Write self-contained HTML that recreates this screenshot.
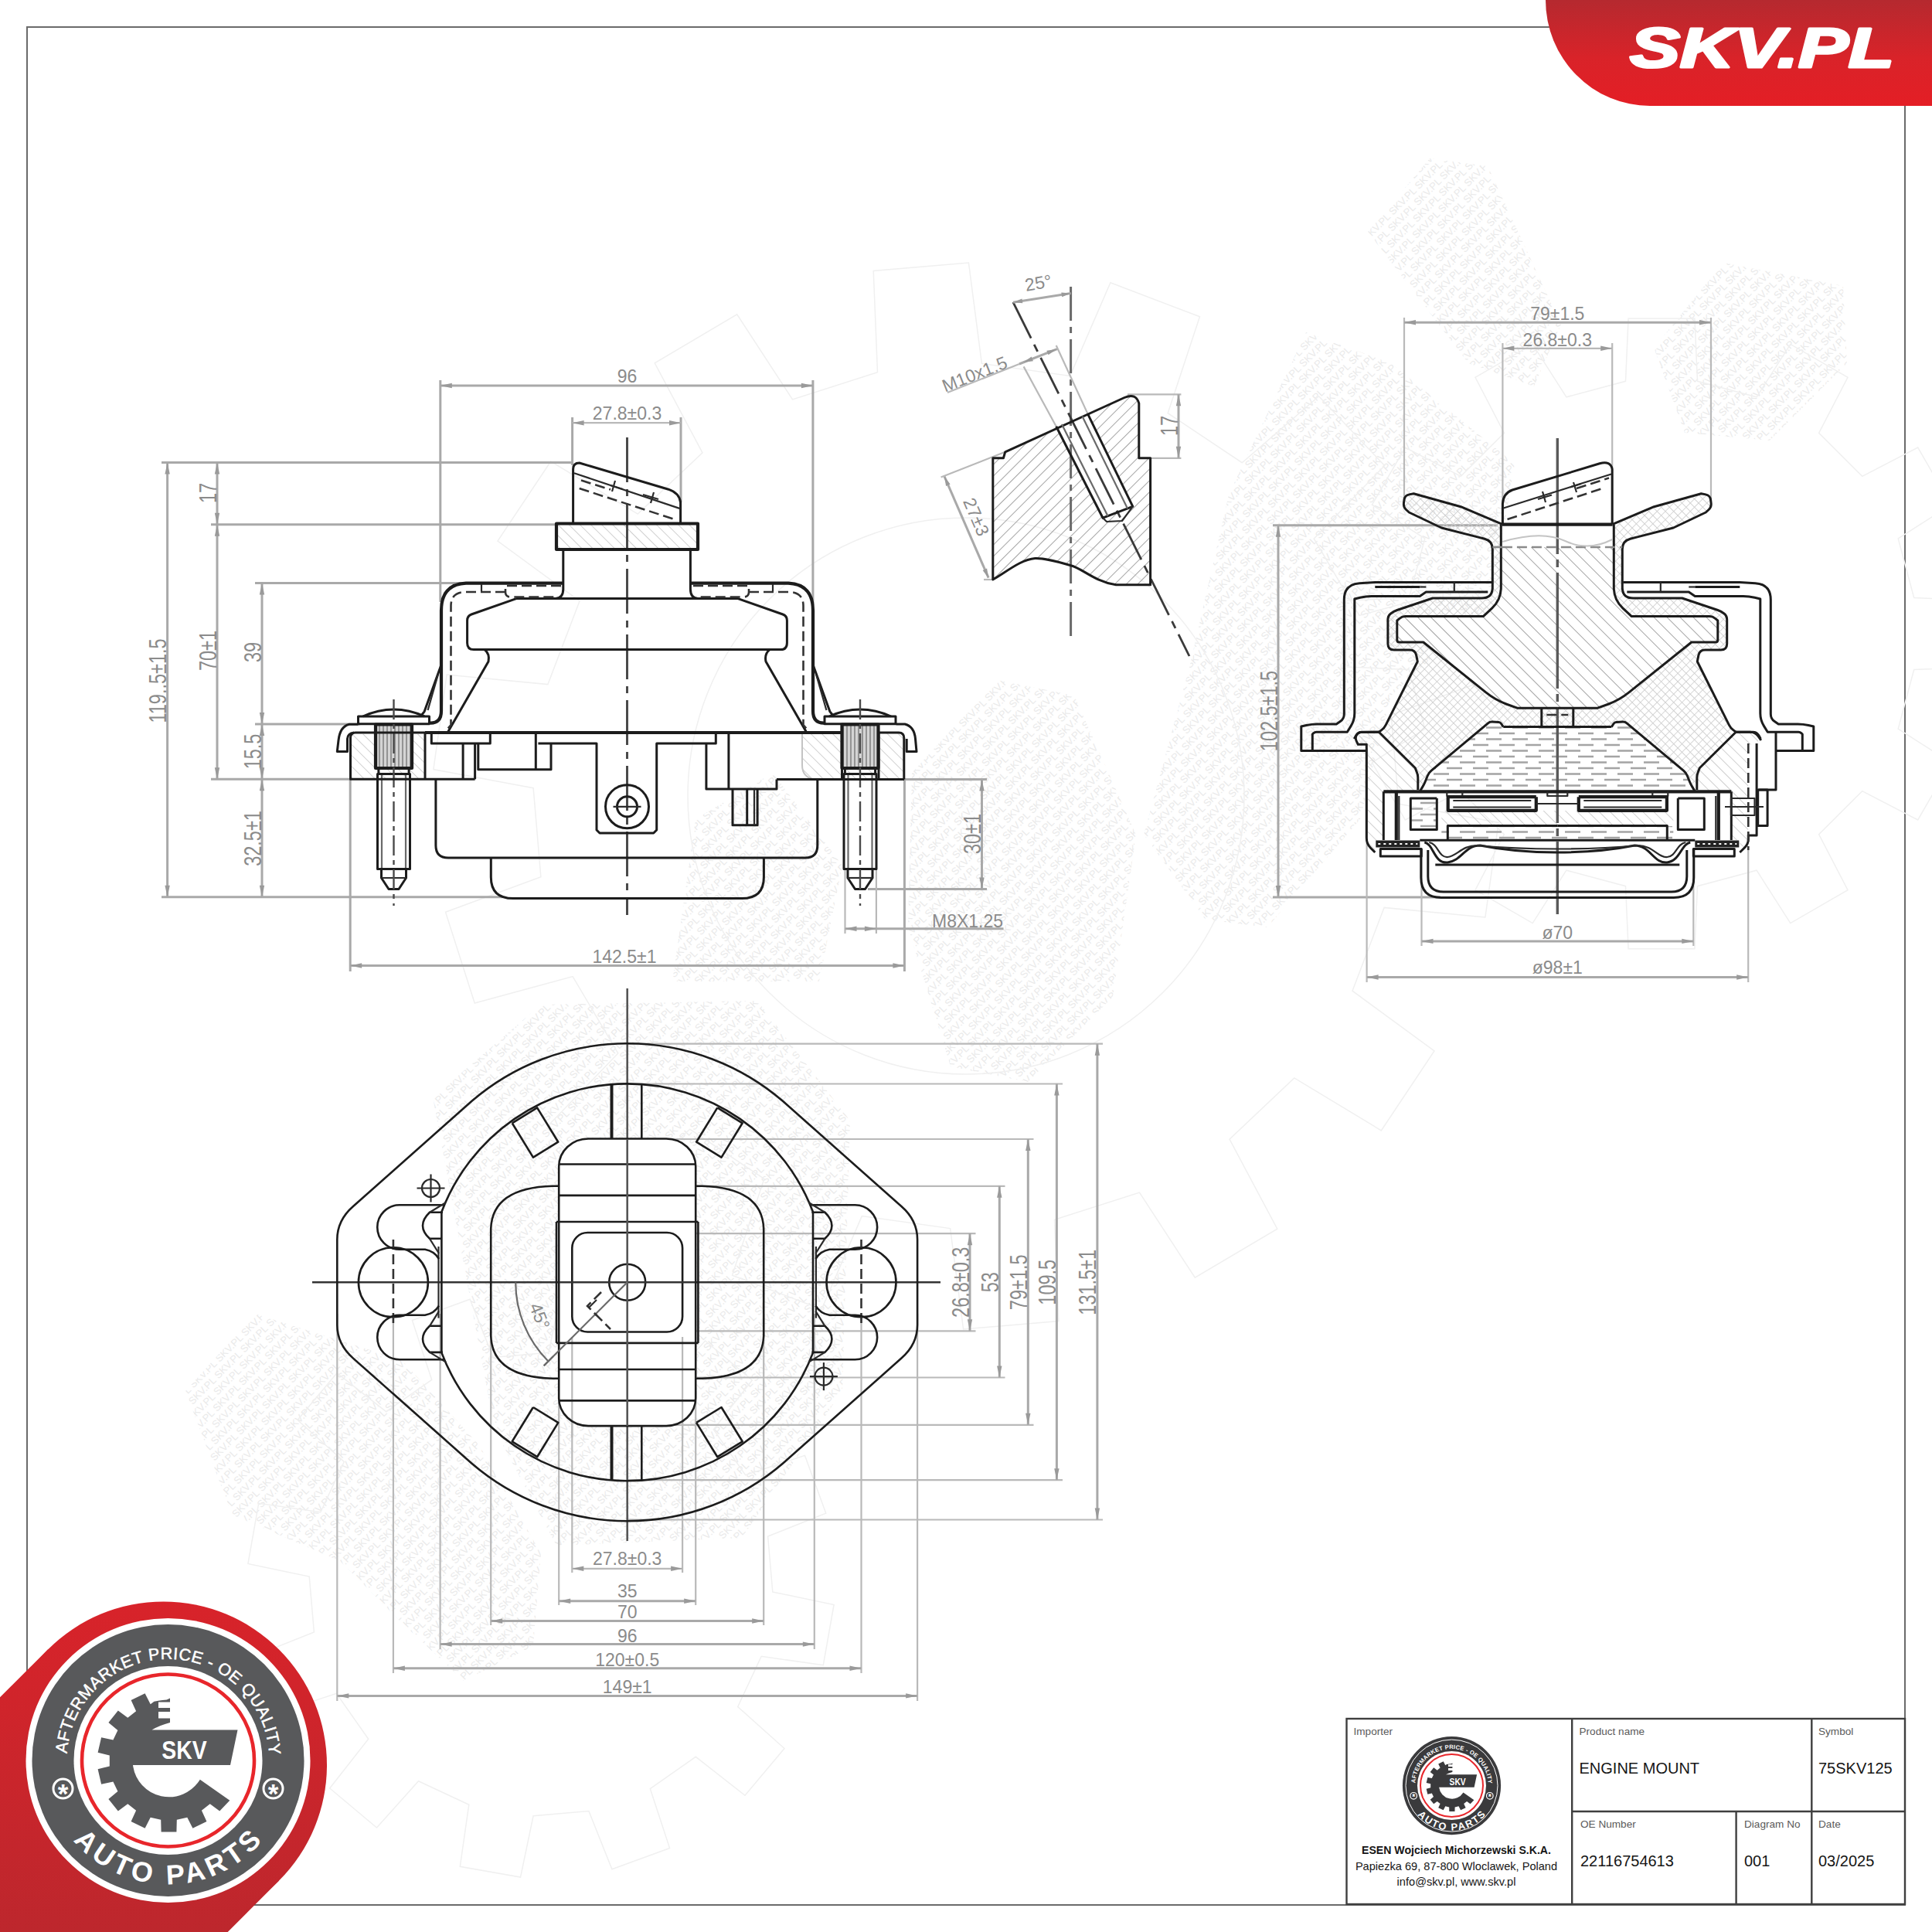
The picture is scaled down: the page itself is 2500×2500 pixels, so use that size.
<!DOCTYPE html>
<html lang="en"><head><meta charset="utf-8"><title>SKV 75SKV125 Engine Mount</title>
<style>
html,body{margin:0;padding:0;background:#fff;}
body{width:2500px;height:2500px;overflow:hidden;font-family:"Liberation Sans",sans-serif;}
svg{display:block;position:absolute;left:0;top:0;}
.o{fill:none;stroke:#1c1c1c;stroke-width:3;stroke-linejoin:round;stroke-linecap:butt;}
.tv .o{stroke-width:2.6;}
.tv .o4{stroke-width:4;}
.o4{fill:none;stroke:#1c1c1c;stroke-width:4.2;stroke-linejoin:round;}
.o2{fill:none;stroke:#2a2a2a;stroke-width:2.2;stroke-linejoin:round;}
.g2{fill:none;stroke:#6a6a6a;stroke-width:2.2;}
.hd{fill:none;stroke:#333;stroke-width:2.6;stroke-dasharray:13 6;}
.cl{fill:none;stroke:#4a4a4a;stroke-width:3;stroke-dasharray:58 9 9 9;}
.cl2{fill:none;stroke:#4a4a4a;stroke-width:2.4;stroke-dasharray:26 6 6 6;}
.d{fill:none;stroke:#a9a9a9;stroke-width:3;}
.d2{fill:none;stroke:#b9b9b9;stroke-width:2.2;}
.ah{fill:#9a9a9a;stroke:none;}
.h{fill:none;stroke:#a8a8a8;stroke-width:2;}
.hl{fill:none;stroke:#c4c4c4;stroke-width:2;}
.t{font-family:"Liberation Sans",sans-serif;font-size:23px;fill:#8b8b8b;}
.tr{font-family:"Liberation Sans",sans-serif;font-size:23.5px;fill:#8b8b8b;}
.wm{font-family:"Liberation Sans",sans-serif;font-size:13px;fill:#eaeaea;}
.wg{fill:none;stroke:#f0f0f0;stroke-width:1.5;}
.tb{fill:none;stroke:#3f3f3f;stroke-width:2.4;}
.tl{font-family:"Liberation Sans",sans-serif;font-size:13.6px;fill:#5a5a5a;}
.tv{font-family:"Liberation Sans",sans-serif;font-size:20px;fill:#161616;}
.ta{font-family:"Liberation Sans",sans-serif;font-size:14.6px;fill:#161616;}
</style></head><body>
<svg width="2500" height="2500" viewBox="0 0 2500 2500">
<defs><linearGradient id="gt" x1="0" y1="0" x2="0" y2="1"><stop offset="0" stop-color="#b5292f"/><stop offset="0.55" stop-color="#d92329"/><stop offset="1" stop-color="#e41e25"/></linearGradient><linearGradient id="gb" gradientUnits="userSpaceOnUse" x1="0" y1="2070" x2="0" y2="2500"><stop offset="0" stop-color="#d8232a"/><stop offset="1" stop-color="#bd272d"/></linearGradient><pattern id="hA" width="10.5" height="10.5" patternUnits="userSpaceOnUse" patternTransform="rotate(45)"><line x1="0" y1="0" x2="0" y2="15" stroke="#a2a2a2" stroke-width="2"/></pattern><pattern id="hB" width="12" height="12" patternUnits="userSpaceOnUse" patternTransform="rotate(-45)"><line x1="0" y1="0" x2="0" y2="15" stroke="#a2a2a2" stroke-width="2"/></pattern><pattern id="hL" width="10" height="10" patternUnits="userSpaceOnUse" patternTransform="rotate(-45)"><line x1="0" y1="0" x2="0" y2="14" stroke="#cfcfcf" stroke-width="2"/></pattern><pattern id="hX" width="7.6" height="7.6" patternUnits="userSpaceOnUse" patternTransform="rotate(45)"><path d="M0,0V7.6M0,0H7.6" stroke="#d0d0d0" stroke-width="1.7" fill="none"/></pattern><pattern id="hF" width="34" height="15" patternUnits="userSpaceOnUse"><path d="M2,4H22M19,11.5H34M0,11.5H5" stroke="#a4a4a4" stroke-width="2.6" fill="none"/></pattern><pattern id="hK" width="5" height="8" patternUnits="userSpaceOnUse"><line x1="1" y1="0" x2="1" y2="8" stroke="#8c8c8c" stroke-width="1.8"/></pattern></defs>
<rect class="fr" x="35" y="35" width="2430" height="2430" fill="none" stroke="#6b6b6b" stroke-width="2"/>
<clipPath id="wc1"><polygon points="1770,300 1850,205 1925,215 2020,420 1985,500 1900,470"/></clipPath>
<g clip-path="url(#wc1)"><g transform="rotate(-45 1895 352.5)">
<text class="wm" x="1691.7" y="149.2">SKV.PL SKV.PL SKV.PL SKV.PL SKV.PL SKV.PL SKV.PL SKV.PL SKV.PL SKV.PL</text>
<text class="wm" x="1675.7" y="163.5">SKV.PL SKV.PL SKV.PL SKV.PL SKV.PL SKV.PL SKV.PL SKV.PL SKV.PL SKV.PL</text>
<text class="wm" x="1659.7" y="177.8">SKV.PL SKV.PL SKV.PL SKV.PL SKV.PL SKV.PL SKV.PL SKV.PL SKV.PL SKV.PL</text>
<text class="wm" x="1691.7" y="192.1">SKV.PL SKV.PL SKV.PL SKV.PL SKV.PL SKV.PL SKV.PL SKV.PL SKV.PL SKV.PL</text>
<text class="wm" x="1675.7" y="206.4">SKV.PL SKV.PL SKV.PL SKV.PL SKV.PL SKV.PL SKV.PL SKV.PL SKV.PL SKV.PL</text>
<text class="wm" x="1659.7" y="220.7">SKV.PL SKV.PL SKV.PL SKV.PL SKV.PL SKV.PL SKV.PL SKV.PL SKV.PL SKV.PL</text>
<text class="wm" x="1691.7" y="235">SKV.PL SKV.PL SKV.PL SKV.PL SKV.PL SKV.PL SKV.PL SKV.PL SKV.PL SKV.PL</text>
<text class="wm" x="1675.7" y="249.3">SKV.PL SKV.PL SKV.PL SKV.PL SKV.PL SKV.PL SKV.PL SKV.PL SKV.PL SKV.PL</text>
<text class="wm" x="1659.7" y="263.6">SKV.PL SKV.PL SKV.PL SKV.PL SKV.PL SKV.PL SKV.PL SKV.PL SKV.PL SKV.PL</text>
<text class="wm" x="1691.7" y="277.9">SKV.PL SKV.PL SKV.PL SKV.PL SKV.PL SKV.PL SKV.PL SKV.PL SKV.PL SKV.PL</text>
<text class="wm" x="1675.7" y="292.2">SKV.PL SKV.PL SKV.PL SKV.PL SKV.PL SKV.PL SKV.PL SKV.PL SKV.PL SKV.PL</text>
<text class="wm" x="1659.7" y="306.5">SKV.PL SKV.PL SKV.PL SKV.PL SKV.PL SKV.PL SKV.PL SKV.PL SKV.PL SKV.PL</text>
<text class="wm" x="1691.7" y="320.8">SKV.PL SKV.PL SKV.PL SKV.PL SKV.PL SKV.PL SKV.PL SKV.PL SKV.PL SKV.PL</text>
<text class="wm" x="1675.7" y="335.1">SKV.PL SKV.PL SKV.PL SKV.PL SKV.PL SKV.PL SKV.PL SKV.PL SKV.PL SKV.PL</text>
<text class="wm" x="1659.7" y="349.4">SKV.PL SKV.PL SKV.PL SKV.PL SKV.PL SKV.PL SKV.PL SKV.PL SKV.PL SKV.PL</text>
<text class="wm" x="1691.7" y="363.7">SKV.PL SKV.PL SKV.PL SKV.PL SKV.PL SKV.PL SKV.PL SKV.PL SKV.PL SKV.PL</text>
<text class="wm" x="1675.7" y="378">SKV.PL SKV.PL SKV.PL SKV.PL SKV.PL SKV.PL SKV.PL SKV.PL SKV.PL SKV.PL</text>
<text class="wm" x="1659.7" y="392.3">SKV.PL SKV.PL SKV.PL SKV.PL SKV.PL SKV.PL SKV.PL SKV.PL SKV.PL SKV.PL</text>
<text class="wm" x="1691.7" y="406.6">SKV.PL SKV.PL SKV.PL SKV.PL SKV.PL SKV.PL SKV.PL SKV.PL SKV.PL SKV.PL</text>
<text class="wm" x="1675.7" y="420.9">SKV.PL SKV.PL SKV.PL SKV.PL SKV.PL SKV.PL SKV.PL SKV.PL SKV.PL SKV.PL</text>
<text class="wm" x="1659.7" y="435.2">SKV.PL SKV.PL SKV.PL SKV.PL SKV.PL SKV.PL SKV.PL SKV.PL SKV.PL SKV.PL</text>
<text class="wm" x="1691.7" y="449.5">SKV.PL SKV.PL SKV.PL SKV.PL SKV.PL SKV.PL SKV.PL SKV.PL SKV.PL SKV.PL</text>
<text class="wm" x="1675.7" y="463.8">SKV.PL SKV.PL SKV.PL SKV.PL SKV.PL SKV.PL SKV.PL SKV.PL SKV.PL SKV.PL</text>
<text class="wm" x="1659.7" y="478.1">SKV.PL SKV.PL SKV.PL SKV.PL SKV.PL SKV.PL SKV.PL SKV.PL SKV.PL SKV.PL</text>
<text class="wm" x="1691.7" y="492.4">SKV.PL SKV.PL SKV.PL SKV.PL SKV.PL SKV.PL SKV.PL SKV.PL SKV.PL SKV.PL</text>
<text class="wm" x="1675.7" y="506.7">SKV.PL SKV.PL SKV.PL SKV.PL SKV.PL SKV.PL SKV.PL SKV.PL SKV.PL SKV.PL</text>
<text class="wm" x="1659.7" y="521">SKV.PL SKV.PL SKV.PL SKV.PL SKV.PL SKV.PL SKV.PL SKV.PL SKV.PL SKV.PL</text>
<text class="wm" x="1691.7" y="535.3">SKV.PL SKV.PL SKV.PL SKV.PL SKV.PL SKV.PL SKV.PL SKV.PL SKV.PL SKV.PL</text>
<text class="wm" x="1675.7" y="549.6">SKV.PL SKV.PL SKV.PL SKV.PL SKV.PL SKV.PL SKV.PL SKV.PL SKV.PL SKV.PL</text>
</g></g>
<clipPath id="wc2"><polygon points="2140,450 2230,340 2385,370 2390,470 2290,570 2180,560"/></clipPath>
<g clip-path="url(#wc2)"><g transform="rotate(-45 2265 455)">
<text class="wm" x="2085.1" y="275.1">SKV.PL SKV.PL SKV.PL SKV.PL SKV.PL SKV.PL SKV.PL SKV.PL SKV.PL</text>
<text class="wm" x="2069.1" y="289.4">SKV.PL SKV.PL SKV.PL SKV.PL SKV.PL SKV.PL SKV.PL SKV.PL SKV.PL</text>
<text class="wm" x="2053.1" y="303.7">SKV.PL SKV.PL SKV.PL SKV.PL SKV.PL SKV.PL SKV.PL SKV.PL SKV.PL</text>
<text class="wm" x="2085.1" y="318">SKV.PL SKV.PL SKV.PL SKV.PL SKV.PL SKV.PL SKV.PL SKV.PL SKV.PL</text>
<text class="wm" x="2069.1" y="332.3">SKV.PL SKV.PL SKV.PL SKV.PL SKV.PL SKV.PL SKV.PL SKV.PL SKV.PL</text>
<text class="wm" x="2053.1" y="346.6">SKV.PL SKV.PL SKV.PL SKV.PL SKV.PL SKV.PL SKV.PL SKV.PL SKV.PL</text>
<text class="wm" x="2085.1" y="360.9">SKV.PL SKV.PL SKV.PL SKV.PL SKV.PL SKV.PL SKV.PL SKV.PL SKV.PL</text>
<text class="wm" x="2069.1" y="375.2">SKV.PL SKV.PL SKV.PL SKV.PL SKV.PL SKV.PL SKV.PL SKV.PL SKV.PL</text>
<text class="wm" x="2053.1" y="389.5">SKV.PL SKV.PL SKV.PL SKV.PL SKV.PL SKV.PL SKV.PL SKV.PL SKV.PL</text>
<text class="wm" x="2085.1" y="403.8">SKV.PL SKV.PL SKV.PL SKV.PL SKV.PL SKV.PL SKV.PL SKV.PL SKV.PL</text>
<text class="wm" x="2069.1" y="418.1">SKV.PL SKV.PL SKV.PL SKV.PL SKV.PL SKV.PL SKV.PL SKV.PL SKV.PL</text>
<text class="wm" x="2053.1" y="432.4">SKV.PL SKV.PL SKV.PL SKV.PL SKV.PL SKV.PL SKV.PL SKV.PL SKV.PL</text>
<text class="wm" x="2085.1" y="446.7">SKV.PL SKV.PL SKV.PL SKV.PL SKV.PL SKV.PL SKV.PL SKV.PL SKV.PL</text>
<text class="wm" x="2069.1" y="461">SKV.PL SKV.PL SKV.PL SKV.PL SKV.PL SKV.PL SKV.PL SKV.PL SKV.PL</text>
<text class="wm" x="2053.1" y="475.3">SKV.PL SKV.PL SKV.PL SKV.PL SKV.PL SKV.PL SKV.PL SKV.PL SKV.PL</text>
<text class="wm" x="2085.1" y="489.6">SKV.PL SKV.PL SKV.PL SKV.PL SKV.PL SKV.PL SKV.PL SKV.PL SKV.PL</text>
<text class="wm" x="2069.1" y="503.9">SKV.PL SKV.PL SKV.PL SKV.PL SKV.PL SKV.PL SKV.PL SKV.PL SKV.PL</text>
<text class="wm" x="2053.1" y="518.2">SKV.PL SKV.PL SKV.PL SKV.PL SKV.PL SKV.PL SKV.PL SKV.PL SKV.PL</text>
<text class="wm" x="2085.1" y="532.5">SKV.PL SKV.PL SKV.PL SKV.PL SKV.PL SKV.PL SKV.PL SKV.PL SKV.PL</text>
<text class="wm" x="2069.1" y="546.8">SKV.PL SKV.PL SKV.PL SKV.PL SKV.PL SKV.PL SKV.PL SKV.PL SKV.PL</text>
<text class="wm" x="2053.1" y="561.1">SKV.PL SKV.PL SKV.PL SKV.PL SKV.PL SKV.PL SKV.PL SKV.PL SKV.PL</text>
<text class="wm" x="2085.1" y="575.4">SKV.PL SKV.PL SKV.PL SKV.PL SKV.PL SKV.PL SKV.PL SKV.PL SKV.PL</text>
<text class="wm" x="2069.1" y="589.7">SKV.PL SKV.PL SKV.PL SKV.PL SKV.PL SKV.PL SKV.PL SKV.PL SKV.PL</text>
<text class="wm" x="2053.1" y="604">SKV.PL SKV.PL SKV.PL SKV.PL SKV.PL SKV.PL SKV.PL SKV.PL SKV.PL</text>
<text class="wm" x="2085.1" y="618.3">SKV.PL SKV.PL SKV.PL SKV.PL SKV.PL SKV.PL SKV.PL SKV.PL SKV.PL</text>
<text class="wm" x="2069.1" y="632.6">SKV.PL SKV.PL SKV.PL SKV.PL SKV.PL SKV.PL SKV.PL SKV.PL SKV.PL</text>
</g></g>
<clipPath id="wc3"><polygon points="1690,430 1800,470 1960,600 1930,780 1800,900 1760,1060 1640,1200 1560,1190 1480,1080 1540,860 1590,640"/></clipPath>
<g clip-path="url(#wc3)"><g transform="rotate(-45 1720 815)">
<text class="wm" x="1256.3" y="351.3">SKV.PL SKV.PL SKV.PL SKV.PL SKV.PL SKV.PL SKV.PL SKV.PL SKV.PL SKV.PL SKV.PL SKV.PL SKV.PL SKV.PL SKV.PL SKV.PL SKV.PL SKV.PL SKV.PL SKV.PL SKV.PL</text>
<text class="wm" x="1240.3" y="365.6">SKV.PL SKV.PL SKV.PL SKV.PL SKV.PL SKV.PL SKV.PL SKV.PL SKV.PL SKV.PL SKV.PL SKV.PL SKV.PL SKV.PL SKV.PL SKV.PL SKV.PL SKV.PL SKV.PL SKV.PL SKV.PL</text>
<text class="wm" x="1224.3" y="379.9">SKV.PL SKV.PL SKV.PL SKV.PL SKV.PL SKV.PL SKV.PL SKV.PL SKV.PL SKV.PL SKV.PL SKV.PL SKV.PL SKV.PL SKV.PL SKV.PL SKV.PL SKV.PL SKV.PL SKV.PL SKV.PL</text>
<text class="wm" x="1256.3" y="394.2">SKV.PL SKV.PL SKV.PL SKV.PL SKV.PL SKV.PL SKV.PL SKV.PL SKV.PL SKV.PL SKV.PL SKV.PL SKV.PL SKV.PL SKV.PL SKV.PL SKV.PL SKV.PL SKV.PL SKV.PL SKV.PL</text>
<text class="wm" x="1240.3" y="408.5">SKV.PL SKV.PL SKV.PL SKV.PL SKV.PL SKV.PL SKV.PL SKV.PL SKV.PL SKV.PL SKV.PL SKV.PL SKV.PL SKV.PL SKV.PL SKV.PL SKV.PL SKV.PL SKV.PL SKV.PL SKV.PL</text>
<text class="wm" x="1224.3" y="422.8">SKV.PL SKV.PL SKV.PL SKV.PL SKV.PL SKV.PL SKV.PL SKV.PL SKV.PL SKV.PL SKV.PL SKV.PL SKV.PL SKV.PL SKV.PL SKV.PL SKV.PL SKV.PL SKV.PL SKV.PL SKV.PL</text>
<text class="wm" x="1256.3" y="437.1">SKV.PL SKV.PL SKV.PL SKV.PL SKV.PL SKV.PL SKV.PL SKV.PL SKV.PL SKV.PL SKV.PL SKV.PL SKV.PL SKV.PL SKV.PL SKV.PL SKV.PL SKV.PL SKV.PL SKV.PL SKV.PL</text>
<text class="wm" x="1240.3" y="451.4">SKV.PL SKV.PL SKV.PL SKV.PL SKV.PL SKV.PL SKV.PL SKV.PL SKV.PL SKV.PL SKV.PL SKV.PL SKV.PL SKV.PL SKV.PL SKV.PL SKV.PL SKV.PL SKV.PL SKV.PL SKV.PL</text>
<text class="wm" x="1224.3" y="465.7">SKV.PL SKV.PL SKV.PL SKV.PL SKV.PL SKV.PL SKV.PL SKV.PL SKV.PL SKV.PL SKV.PL SKV.PL SKV.PL SKV.PL SKV.PL SKV.PL SKV.PL SKV.PL SKV.PL SKV.PL SKV.PL</text>
<text class="wm" x="1256.3" y="480">SKV.PL SKV.PL SKV.PL SKV.PL SKV.PL SKV.PL SKV.PL SKV.PL SKV.PL SKV.PL SKV.PL SKV.PL SKV.PL SKV.PL SKV.PL SKV.PL SKV.PL SKV.PL SKV.PL SKV.PL SKV.PL</text>
<text class="wm" x="1240.3" y="494.3">SKV.PL SKV.PL SKV.PL SKV.PL SKV.PL SKV.PL SKV.PL SKV.PL SKV.PL SKV.PL SKV.PL SKV.PL SKV.PL SKV.PL SKV.PL SKV.PL SKV.PL SKV.PL SKV.PL SKV.PL SKV.PL</text>
<text class="wm" x="1224.3" y="508.6">SKV.PL SKV.PL SKV.PL SKV.PL SKV.PL SKV.PL SKV.PL SKV.PL SKV.PL SKV.PL SKV.PL SKV.PL SKV.PL SKV.PL SKV.PL SKV.PL SKV.PL SKV.PL SKV.PL SKV.PL SKV.PL</text>
<text class="wm" x="1256.3" y="522.9">SKV.PL SKV.PL SKV.PL SKV.PL SKV.PL SKV.PL SKV.PL SKV.PL SKV.PL SKV.PL SKV.PL SKV.PL SKV.PL SKV.PL SKV.PL SKV.PL SKV.PL SKV.PL SKV.PL SKV.PL SKV.PL</text>
<text class="wm" x="1240.3" y="537.2">SKV.PL SKV.PL SKV.PL SKV.PL SKV.PL SKV.PL SKV.PL SKV.PL SKV.PL SKV.PL SKV.PL SKV.PL SKV.PL SKV.PL SKV.PL SKV.PL SKV.PL SKV.PL SKV.PL SKV.PL SKV.PL</text>
<text class="wm" x="1224.3" y="551.5">SKV.PL SKV.PL SKV.PL SKV.PL SKV.PL SKV.PL SKV.PL SKV.PL SKV.PL SKV.PL SKV.PL SKV.PL SKV.PL SKV.PL SKV.PL SKV.PL SKV.PL SKV.PL SKV.PL SKV.PL SKV.PL</text>
<text class="wm" x="1256.3" y="565.8">SKV.PL SKV.PL SKV.PL SKV.PL SKV.PL SKV.PL SKV.PL SKV.PL SKV.PL SKV.PL SKV.PL SKV.PL SKV.PL SKV.PL SKV.PL SKV.PL SKV.PL SKV.PL SKV.PL SKV.PL SKV.PL</text>
<text class="wm" x="1240.3" y="580.1">SKV.PL SKV.PL SKV.PL SKV.PL SKV.PL SKV.PL SKV.PL SKV.PL SKV.PL SKV.PL SKV.PL SKV.PL SKV.PL SKV.PL SKV.PL SKV.PL SKV.PL SKV.PL SKV.PL SKV.PL SKV.PL</text>
<text class="wm" x="1224.3" y="594.4">SKV.PL SKV.PL SKV.PL SKV.PL SKV.PL SKV.PL SKV.PL SKV.PL SKV.PL SKV.PL SKV.PL SKV.PL SKV.PL SKV.PL SKV.PL SKV.PL SKV.PL SKV.PL SKV.PL SKV.PL SKV.PL</text>
<text class="wm" x="1256.3" y="608.7">SKV.PL SKV.PL SKV.PL SKV.PL SKV.PL SKV.PL SKV.PL SKV.PL SKV.PL SKV.PL SKV.PL SKV.PL SKV.PL SKV.PL SKV.PL SKV.PL SKV.PL SKV.PL SKV.PL SKV.PL SKV.PL</text>
<text class="wm" x="1240.3" y="623">SKV.PL SKV.PL SKV.PL SKV.PL SKV.PL SKV.PL SKV.PL SKV.PL SKV.PL SKV.PL SKV.PL SKV.PL SKV.PL SKV.PL SKV.PL SKV.PL SKV.PL SKV.PL SKV.PL SKV.PL SKV.PL</text>
<text class="wm" x="1224.3" y="637.3">SKV.PL SKV.PL SKV.PL SKV.PL SKV.PL SKV.PL SKV.PL SKV.PL SKV.PL SKV.PL SKV.PL SKV.PL SKV.PL SKV.PL SKV.PL SKV.PL SKV.PL SKV.PL SKV.PL SKV.PL SKV.PL</text>
<text class="wm" x="1256.3" y="651.6">SKV.PL SKV.PL SKV.PL SKV.PL SKV.PL SKV.PL SKV.PL SKV.PL SKV.PL SKV.PL SKV.PL SKV.PL SKV.PL SKV.PL SKV.PL SKV.PL SKV.PL SKV.PL SKV.PL SKV.PL SKV.PL</text>
<text class="wm" x="1240.3" y="665.9">SKV.PL SKV.PL SKV.PL SKV.PL SKV.PL SKV.PL SKV.PL SKV.PL SKV.PL SKV.PL SKV.PL SKV.PL SKV.PL SKV.PL SKV.PL SKV.PL SKV.PL SKV.PL SKV.PL SKV.PL SKV.PL</text>
<text class="wm" x="1224.3" y="680.2">SKV.PL SKV.PL SKV.PL SKV.PL SKV.PL SKV.PL SKV.PL SKV.PL SKV.PL SKV.PL SKV.PL SKV.PL SKV.PL SKV.PL SKV.PL SKV.PL SKV.PL SKV.PL SKV.PL SKV.PL SKV.PL</text>
<text class="wm" x="1256.3" y="694.5">SKV.PL SKV.PL SKV.PL SKV.PL SKV.PL SKV.PL SKV.PL SKV.PL SKV.PL SKV.PL SKV.PL SKV.PL SKV.PL SKV.PL SKV.PL SKV.PL SKV.PL SKV.PL SKV.PL SKV.PL SKV.PL</text>
<text class="wm" x="1240.3" y="708.8">SKV.PL SKV.PL SKV.PL SKV.PL SKV.PL SKV.PL SKV.PL SKV.PL SKV.PL SKV.PL SKV.PL SKV.PL SKV.PL SKV.PL SKV.PL SKV.PL SKV.PL SKV.PL SKV.PL SKV.PL SKV.PL</text>
<text class="wm" x="1224.3" y="723.1">SKV.PL SKV.PL SKV.PL SKV.PL SKV.PL SKV.PL SKV.PL SKV.PL SKV.PL SKV.PL SKV.PL SKV.PL SKV.PL SKV.PL SKV.PL SKV.PL SKV.PL SKV.PL SKV.PL SKV.PL SKV.PL</text>
<text class="wm" x="1256.3" y="737.4">SKV.PL SKV.PL SKV.PL SKV.PL SKV.PL SKV.PL SKV.PL SKV.PL SKV.PL SKV.PL SKV.PL SKV.PL SKV.PL SKV.PL SKV.PL SKV.PL SKV.PL SKV.PL SKV.PL SKV.PL SKV.PL</text>
<text class="wm" x="1240.3" y="751.7">SKV.PL SKV.PL SKV.PL SKV.PL SKV.PL SKV.PL SKV.PL SKV.PL SKV.PL SKV.PL SKV.PL SKV.PL SKV.PL SKV.PL SKV.PL SKV.PL SKV.PL SKV.PL SKV.PL SKV.PL SKV.PL</text>
<text class="wm" x="1224.3" y="766">SKV.PL SKV.PL SKV.PL SKV.PL SKV.PL SKV.PL SKV.PL SKV.PL SKV.PL SKV.PL SKV.PL SKV.PL SKV.PL SKV.PL SKV.PL SKV.PL SKV.PL SKV.PL SKV.PL SKV.PL SKV.PL</text>
<text class="wm" x="1256.3" y="780.3">SKV.PL SKV.PL SKV.PL SKV.PL SKV.PL SKV.PL SKV.PL SKV.PL SKV.PL SKV.PL SKV.PL SKV.PL SKV.PL SKV.PL SKV.PL SKV.PL SKV.PL SKV.PL SKV.PL SKV.PL SKV.PL</text>
<text class="wm" x="1240.3" y="794.6">SKV.PL SKV.PL SKV.PL SKV.PL SKV.PL SKV.PL SKV.PL SKV.PL SKV.PL SKV.PL SKV.PL SKV.PL SKV.PL SKV.PL SKV.PL SKV.PL SKV.PL SKV.PL SKV.PL SKV.PL SKV.PL</text>
<text class="wm" x="1224.3" y="808.9">SKV.PL SKV.PL SKV.PL SKV.PL SKV.PL SKV.PL SKV.PL SKV.PL SKV.PL SKV.PL SKV.PL SKV.PL SKV.PL SKV.PL SKV.PL SKV.PL SKV.PL SKV.PL SKV.PL SKV.PL SKV.PL</text>
<text class="wm" x="1256.3" y="823.2">SKV.PL SKV.PL SKV.PL SKV.PL SKV.PL SKV.PL SKV.PL SKV.PL SKV.PL SKV.PL SKV.PL SKV.PL SKV.PL SKV.PL SKV.PL SKV.PL SKV.PL SKV.PL SKV.PL SKV.PL SKV.PL</text>
<text class="wm" x="1240.3" y="837.5">SKV.PL SKV.PL SKV.PL SKV.PL SKV.PL SKV.PL SKV.PL SKV.PL SKV.PL SKV.PL SKV.PL SKV.PL SKV.PL SKV.PL SKV.PL SKV.PL SKV.PL SKV.PL SKV.PL SKV.PL SKV.PL</text>
<text class="wm" x="1224.3" y="851.8">SKV.PL SKV.PL SKV.PL SKV.PL SKV.PL SKV.PL SKV.PL SKV.PL SKV.PL SKV.PL SKV.PL SKV.PL SKV.PL SKV.PL SKV.PL SKV.PL SKV.PL SKV.PL SKV.PL SKV.PL SKV.PL</text>
<text class="wm" x="1256.3" y="866.1">SKV.PL SKV.PL SKV.PL SKV.PL SKV.PL SKV.PL SKV.PL SKV.PL SKV.PL SKV.PL SKV.PL SKV.PL SKV.PL SKV.PL SKV.PL SKV.PL SKV.PL SKV.PL SKV.PL SKV.PL SKV.PL</text>
<text class="wm" x="1240.3" y="880.4">SKV.PL SKV.PL SKV.PL SKV.PL SKV.PL SKV.PL SKV.PL SKV.PL SKV.PL SKV.PL SKV.PL SKV.PL SKV.PL SKV.PL SKV.PL SKV.PL SKV.PL SKV.PL SKV.PL SKV.PL SKV.PL</text>
<text class="wm" x="1224.3" y="894.7">SKV.PL SKV.PL SKV.PL SKV.PL SKV.PL SKV.PL SKV.PL SKV.PL SKV.PL SKV.PL SKV.PL SKV.PL SKV.PL SKV.PL SKV.PL SKV.PL SKV.PL SKV.PL SKV.PL SKV.PL SKV.PL</text>
<text class="wm" x="1256.3" y="909">SKV.PL SKV.PL SKV.PL SKV.PL SKV.PL SKV.PL SKV.PL SKV.PL SKV.PL SKV.PL SKV.PL SKV.PL SKV.PL SKV.PL SKV.PL SKV.PL SKV.PL SKV.PL SKV.PL SKV.PL SKV.PL</text>
<text class="wm" x="1240.3" y="923.3">SKV.PL SKV.PL SKV.PL SKV.PL SKV.PL SKV.PL SKV.PL SKV.PL SKV.PL SKV.PL SKV.PL SKV.PL SKV.PL SKV.PL SKV.PL SKV.PL SKV.PL SKV.PL SKV.PL SKV.PL SKV.PL</text>
<text class="wm" x="1224.3" y="937.6">SKV.PL SKV.PL SKV.PL SKV.PL SKV.PL SKV.PL SKV.PL SKV.PL SKV.PL SKV.PL SKV.PL SKV.PL SKV.PL SKV.PL SKV.PL SKV.PL SKV.PL SKV.PL SKV.PL SKV.PL SKV.PL</text>
<text class="wm" x="1256.3" y="951.9">SKV.PL SKV.PL SKV.PL SKV.PL SKV.PL SKV.PL SKV.PL SKV.PL SKV.PL SKV.PL SKV.PL SKV.PL SKV.PL SKV.PL SKV.PL SKV.PL SKV.PL SKV.PL SKV.PL SKV.PL SKV.PL</text>
<text class="wm" x="1240.3" y="966.2">SKV.PL SKV.PL SKV.PL SKV.PL SKV.PL SKV.PL SKV.PL SKV.PL SKV.PL SKV.PL SKV.PL SKV.PL SKV.PL SKV.PL SKV.PL SKV.PL SKV.PL SKV.PL SKV.PL SKV.PL SKV.PL</text>
<text class="wm" x="1224.3" y="980.5">SKV.PL SKV.PL SKV.PL SKV.PL SKV.PL SKV.PL SKV.PL SKV.PL SKV.PL SKV.PL SKV.PL SKV.PL SKV.PL SKV.PL SKV.PL SKV.PL SKV.PL SKV.PL SKV.PL SKV.PL SKV.PL</text>
<text class="wm" x="1256.3" y="994.8">SKV.PL SKV.PL SKV.PL SKV.PL SKV.PL SKV.PL SKV.PL SKV.PL SKV.PL SKV.PL SKV.PL SKV.PL SKV.PL SKV.PL SKV.PL SKV.PL SKV.PL SKV.PL SKV.PL SKV.PL SKV.PL</text>
<text class="wm" x="1240.3" y="1009.1">SKV.PL SKV.PL SKV.PL SKV.PL SKV.PL SKV.PL SKV.PL SKV.PL SKV.PL SKV.PL SKV.PL SKV.PL SKV.PL SKV.PL SKV.PL SKV.PL SKV.PL SKV.PL SKV.PL SKV.PL SKV.PL</text>
<text class="wm" x="1224.3" y="1023.4">SKV.PL SKV.PL SKV.PL SKV.PL SKV.PL SKV.PL SKV.PL SKV.PL SKV.PL SKV.PL SKV.PL SKV.PL SKV.PL SKV.PL SKV.PL SKV.PL SKV.PL SKV.PL SKV.PL SKV.PL SKV.PL</text>
<text class="wm" x="1256.3" y="1037.7">SKV.PL SKV.PL SKV.PL SKV.PL SKV.PL SKV.PL SKV.PL SKV.PL SKV.PL SKV.PL SKV.PL SKV.PL SKV.PL SKV.PL SKV.PL SKV.PL SKV.PL SKV.PL SKV.PL SKV.PL SKV.PL</text>
<text class="wm" x="1240.3" y="1052">SKV.PL SKV.PL SKV.PL SKV.PL SKV.PL SKV.PL SKV.PL SKV.PL SKV.PL SKV.PL SKV.PL SKV.PL SKV.PL SKV.PL SKV.PL SKV.PL SKV.PL SKV.PL SKV.PL SKV.PL SKV.PL</text>
<text class="wm" x="1224.3" y="1066.3">SKV.PL SKV.PL SKV.PL SKV.PL SKV.PL SKV.PL SKV.PL SKV.PL SKV.PL SKV.PL SKV.PL SKV.PL SKV.PL SKV.PL SKV.PL SKV.PL SKV.PL SKV.PL SKV.PL SKV.PL SKV.PL</text>
<text class="wm" x="1256.3" y="1080.6">SKV.PL SKV.PL SKV.PL SKV.PL SKV.PL SKV.PL SKV.PL SKV.PL SKV.PL SKV.PL SKV.PL SKV.PL SKV.PL SKV.PL SKV.PL SKV.PL SKV.PL SKV.PL SKV.PL SKV.PL SKV.PL</text>
<text class="wm" x="1240.3" y="1094.9">SKV.PL SKV.PL SKV.PL SKV.PL SKV.PL SKV.PL SKV.PL SKV.PL SKV.PL SKV.PL SKV.PL SKV.PL SKV.PL SKV.PL SKV.PL SKV.PL SKV.PL SKV.PL SKV.PL SKV.PL SKV.PL</text>
<text class="wm" x="1224.3" y="1109.2">SKV.PL SKV.PL SKV.PL SKV.PL SKV.PL SKV.PL SKV.PL SKV.PL SKV.PL SKV.PL SKV.PL SKV.PL SKV.PL SKV.PL SKV.PL SKV.PL SKV.PL SKV.PL SKV.PL SKV.PL SKV.PL</text>
<text class="wm" x="1256.3" y="1123.5">SKV.PL SKV.PL SKV.PL SKV.PL SKV.PL SKV.PL SKV.PL SKV.PL SKV.PL SKV.PL SKV.PL SKV.PL SKV.PL SKV.PL SKV.PL SKV.PL SKV.PL SKV.PL SKV.PL SKV.PL SKV.PL</text>
<text class="wm" x="1240.3" y="1137.8">SKV.PL SKV.PL SKV.PL SKV.PL SKV.PL SKV.PL SKV.PL SKV.PL SKV.PL SKV.PL SKV.PL SKV.PL SKV.PL SKV.PL SKV.PL SKV.PL SKV.PL SKV.PL SKV.PL SKV.PL SKV.PL</text>
<text class="wm" x="1224.3" y="1152.1">SKV.PL SKV.PL SKV.PL SKV.PL SKV.PL SKV.PL SKV.PL SKV.PL SKV.PL SKV.PL SKV.PL SKV.PL SKV.PL SKV.PL SKV.PL SKV.PL SKV.PL SKV.PL SKV.PL SKV.PL SKV.PL</text>
<text class="wm" x="1256.3" y="1166.4">SKV.PL SKV.PL SKV.PL SKV.PL SKV.PL SKV.PL SKV.PL SKV.PL SKV.PL SKV.PL SKV.PL SKV.PL SKV.PL SKV.PL SKV.PL SKV.PL SKV.PL SKV.PL SKV.PL SKV.PL SKV.PL</text>
<text class="wm" x="1240.3" y="1180.7">SKV.PL SKV.PL SKV.PL SKV.PL SKV.PL SKV.PL SKV.PL SKV.PL SKV.PL SKV.PL SKV.PL SKV.PL SKV.PL SKV.PL SKV.PL SKV.PL SKV.PL SKV.PL SKV.PL SKV.PL SKV.PL</text>
<text class="wm" x="1224.3" y="1195">SKV.PL SKV.PL SKV.PL SKV.PL SKV.PL SKV.PL SKV.PL SKV.PL SKV.PL SKV.PL SKV.PL SKV.PL SKV.PL SKV.PL SKV.PL SKV.PL SKV.PL SKV.PL SKV.PL SKV.PL SKV.PL</text>
<text class="wm" x="1256.3" y="1209.3">SKV.PL SKV.PL SKV.PL SKV.PL SKV.PL SKV.PL SKV.PL SKV.PL SKV.PL SKV.PL SKV.PL SKV.PL SKV.PL SKV.PL SKV.PL SKV.PL SKV.PL SKV.PL SKV.PL SKV.PL SKV.PL</text>
<text class="wm" x="1240.3" y="1223.6">SKV.PL SKV.PL SKV.PL SKV.PL SKV.PL SKV.PL SKV.PL SKV.PL SKV.PL SKV.PL SKV.PL SKV.PL SKV.PL SKV.PL SKV.PL SKV.PL SKV.PL SKV.PL SKV.PL SKV.PL SKV.PL</text>
<text class="wm" x="1224.3" y="1237.9">SKV.PL SKV.PL SKV.PL SKV.PL SKV.PL SKV.PL SKV.PL SKV.PL SKV.PL SKV.PL SKV.PL SKV.PL SKV.PL SKV.PL SKV.PL SKV.PL SKV.PL SKV.PL SKV.PL SKV.PL SKV.PL</text>
<text class="wm" x="1256.3" y="1252.2">SKV.PL SKV.PL SKV.PL SKV.PL SKV.PL SKV.PL SKV.PL SKV.PL SKV.PL SKV.PL SKV.PL SKV.PL SKV.PL SKV.PL SKV.PL SKV.PL SKV.PL SKV.PL SKV.PL SKV.PL SKV.PL</text>
<text class="wm" x="1240.3" y="1266.5">SKV.PL SKV.PL SKV.PL SKV.PL SKV.PL SKV.PL SKV.PL SKV.PL SKV.PL SKV.PL SKV.PL SKV.PL SKV.PL SKV.PL SKV.PL SKV.PL SKV.PL SKV.PL SKV.PL SKV.PL SKV.PL</text>
</g></g>
<clipPath id="wc4"><polygon points="1180,1000 1290,880 1390,900 1470,1080 1440,1290 1330,1400 1230,1380 1175,1200"/></clipPath>
<g clip-path="url(#wc4)"><g transform="rotate(-45 1322.5 1140)">
<text class="wm" x="1013.6" y="831.1">SKV.PL SKV.PL SKV.PL SKV.PL SKV.PL SKV.PL SKV.PL SKV.PL SKV.PL SKV.PL SKV.PL SKV.PL SKV.PL SKV.PL SKV.PL</text>
<text class="wm" x="997.6" y="845.4">SKV.PL SKV.PL SKV.PL SKV.PL SKV.PL SKV.PL SKV.PL SKV.PL SKV.PL SKV.PL SKV.PL SKV.PL SKV.PL SKV.PL SKV.PL</text>
<text class="wm" x="981.6" y="859.7">SKV.PL SKV.PL SKV.PL SKV.PL SKV.PL SKV.PL SKV.PL SKV.PL SKV.PL SKV.PL SKV.PL SKV.PL SKV.PL SKV.PL SKV.PL</text>
<text class="wm" x="1013.6" y="874">SKV.PL SKV.PL SKV.PL SKV.PL SKV.PL SKV.PL SKV.PL SKV.PL SKV.PL SKV.PL SKV.PL SKV.PL SKV.PL SKV.PL SKV.PL</text>
<text class="wm" x="997.6" y="888.3">SKV.PL SKV.PL SKV.PL SKV.PL SKV.PL SKV.PL SKV.PL SKV.PL SKV.PL SKV.PL SKV.PL SKV.PL SKV.PL SKV.PL SKV.PL</text>
<text class="wm" x="981.6" y="902.6">SKV.PL SKV.PL SKV.PL SKV.PL SKV.PL SKV.PL SKV.PL SKV.PL SKV.PL SKV.PL SKV.PL SKV.PL SKV.PL SKV.PL SKV.PL</text>
<text class="wm" x="1013.6" y="916.9">SKV.PL SKV.PL SKV.PL SKV.PL SKV.PL SKV.PL SKV.PL SKV.PL SKV.PL SKV.PL SKV.PL SKV.PL SKV.PL SKV.PL SKV.PL</text>
<text class="wm" x="997.6" y="931.2">SKV.PL SKV.PL SKV.PL SKV.PL SKV.PL SKV.PL SKV.PL SKV.PL SKV.PL SKV.PL SKV.PL SKV.PL SKV.PL SKV.PL SKV.PL</text>
<text class="wm" x="981.6" y="945.5">SKV.PL SKV.PL SKV.PL SKV.PL SKV.PL SKV.PL SKV.PL SKV.PL SKV.PL SKV.PL SKV.PL SKV.PL SKV.PL SKV.PL SKV.PL</text>
<text class="wm" x="1013.6" y="959.8">SKV.PL SKV.PL SKV.PL SKV.PL SKV.PL SKV.PL SKV.PL SKV.PL SKV.PL SKV.PL SKV.PL SKV.PL SKV.PL SKV.PL SKV.PL</text>
<text class="wm" x="997.6" y="974.1">SKV.PL SKV.PL SKV.PL SKV.PL SKV.PL SKV.PL SKV.PL SKV.PL SKV.PL SKV.PL SKV.PL SKV.PL SKV.PL SKV.PL SKV.PL</text>
<text class="wm" x="981.6" y="988.4">SKV.PL SKV.PL SKV.PL SKV.PL SKV.PL SKV.PL SKV.PL SKV.PL SKV.PL SKV.PL SKV.PL SKV.PL SKV.PL SKV.PL SKV.PL</text>
<text class="wm" x="1013.6" y="1002.7">SKV.PL SKV.PL SKV.PL SKV.PL SKV.PL SKV.PL SKV.PL SKV.PL SKV.PL SKV.PL SKV.PL SKV.PL SKV.PL SKV.PL SKV.PL</text>
<text class="wm" x="997.6" y="1017">SKV.PL SKV.PL SKV.PL SKV.PL SKV.PL SKV.PL SKV.PL SKV.PL SKV.PL SKV.PL SKV.PL SKV.PL SKV.PL SKV.PL SKV.PL</text>
<text class="wm" x="981.6" y="1031.3">SKV.PL SKV.PL SKV.PL SKV.PL SKV.PL SKV.PL SKV.PL SKV.PL SKV.PL SKV.PL SKV.PL SKV.PL SKV.PL SKV.PL SKV.PL</text>
<text class="wm" x="1013.6" y="1045.6">SKV.PL SKV.PL SKV.PL SKV.PL SKV.PL SKV.PL SKV.PL SKV.PL SKV.PL SKV.PL SKV.PL SKV.PL SKV.PL SKV.PL SKV.PL</text>
<text class="wm" x="997.6" y="1059.9">SKV.PL SKV.PL SKV.PL SKV.PL SKV.PL SKV.PL SKV.PL SKV.PL SKV.PL SKV.PL SKV.PL SKV.PL SKV.PL SKV.PL SKV.PL</text>
<text class="wm" x="981.6" y="1074.2">SKV.PL SKV.PL SKV.PL SKV.PL SKV.PL SKV.PL SKV.PL SKV.PL SKV.PL SKV.PL SKV.PL SKV.PL SKV.PL SKV.PL SKV.PL</text>
<text class="wm" x="1013.6" y="1088.5">SKV.PL SKV.PL SKV.PL SKV.PL SKV.PL SKV.PL SKV.PL SKV.PL SKV.PL SKV.PL SKV.PL SKV.PL SKV.PL SKV.PL SKV.PL</text>
<text class="wm" x="997.6" y="1102.8">SKV.PL SKV.PL SKV.PL SKV.PL SKV.PL SKV.PL SKV.PL SKV.PL SKV.PL SKV.PL SKV.PL SKV.PL SKV.PL SKV.PL SKV.PL</text>
<text class="wm" x="981.6" y="1117.1">SKV.PL SKV.PL SKV.PL SKV.PL SKV.PL SKV.PL SKV.PL SKV.PL SKV.PL SKV.PL SKV.PL SKV.PL SKV.PL SKV.PL SKV.PL</text>
<text class="wm" x="1013.6" y="1131.4">SKV.PL SKV.PL SKV.PL SKV.PL SKV.PL SKV.PL SKV.PL SKV.PL SKV.PL SKV.PL SKV.PL SKV.PL SKV.PL SKV.PL SKV.PL</text>
<text class="wm" x="997.6" y="1145.7">SKV.PL SKV.PL SKV.PL SKV.PL SKV.PL SKV.PL SKV.PL SKV.PL SKV.PL SKV.PL SKV.PL SKV.PL SKV.PL SKV.PL SKV.PL</text>
<text class="wm" x="981.6" y="1160">SKV.PL SKV.PL SKV.PL SKV.PL SKV.PL SKV.PL SKV.PL SKV.PL SKV.PL SKV.PL SKV.PL SKV.PL SKV.PL SKV.PL SKV.PL</text>
<text class="wm" x="1013.6" y="1174.3">SKV.PL SKV.PL SKV.PL SKV.PL SKV.PL SKV.PL SKV.PL SKV.PL SKV.PL SKV.PL SKV.PL SKV.PL SKV.PL SKV.PL SKV.PL</text>
<text class="wm" x="997.6" y="1188.6">SKV.PL SKV.PL SKV.PL SKV.PL SKV.PL SKV.PL SKV.PL SKV.PL SKV.PL SKV.PL SKV.PL SKV.PL SKV.PL SKV.PL SKV.PL</text>
<text class="wm" x="981.6" y="1202.9">SKV.PL SKV.PL SKV.PL SKV.PL SKV.PL SKV.PL SKV.PL SKV.PL SKV.PL SKV.PL SKV.PL SKV.PL SKV.PL SKV.PL SKV.PL</text>
<text class="wm" x="1013.6" y="1217.2">SKV.PL SKV.PL SKV.PL SKV.PL SKV.PL SKV.PL SKV.PL SKV.PL SKV.PL SKV.PL SKV.PL SKV.PL SKV.PL SKV.PL SKV.PL</text>
<text class="wm" x="997.6" y="1231.5">SKV.PL SKV.PL SKV.PL SKV.PL SKV.PL SKV.PL SKV.PL SKV.PL SKV.PL SKV.PL SKV.PL SKV.PL SKV.PL SKV.PL SKV.PL</text>
<text class="wm" x="981.6" y="1245.8">SKV.PL SKV.PL SKV.PL SKV.PL SKV.PL SKV.PL SKV.PL SKV.PL SKV.PL SKV.PL SKV.PL SKV.PL SKV.PL SKV.PL SKV.PL</text>
<text class="wm" x="1013.6" y="1260.1">SKV.PL SKV.PL SKV.PL SKV.PL SKV.PL SKV.PL SKV.PL SKV.PL SKV.PL SKV.PL SKV.PL SKV.PL SKV.PL SKV.PL SKV.PL</text>
<text class="wm" x="997.6" y="1274.4">SKV.PL SKV.PL SKV.PL SKV.PL SKV.PL SKV.PL SKV.PL SKV.PL SKV.PL SKV.PL SKV.PL SKV.PL SKV.PL SKV.PL SKV.PL</text>
<text class="wm" x="981.6" y="1288.7">SKV.PL SKV.PL SKV.PL SKV.PL SKV.PL SKV.PL SKV.PL SKV.PL SKV.PL SKV.PL SKV.PL SKV.PL SKV.PL SKV.PL SKV.PL</text>
<text class="wm" x="1013.6" y="1303">SKV.PL SKV.PL SKV.PL SKV.PL SKV.PL SKV.PL SKV.PL SKV.PL SKV.PL SKV.PL SKV.PL SKV.PL SKV.PL SKV.PL SKV.PL</text>
<text class="wm" x="997.6" y="1317.3">SKV.PL SKV.PL SKV.PL SKV.PL SKV.PL SKV.PL SKV.PL SKV.PL SKV.PL SKV.PL SKV.PL SKV.PL SKV.PL SKV.PL SKV.PL</text>
<text class="wm" x="981.6" y="1331.6">SKV.PL SKV.PL SKV.PL SKV.PL SKV.PL SKV.PL SKV.PL SKV.PL SKV.PL SKV.PL SKV.PL SKV.PL SKV.PL SKV.PL SKV.PL</text>
<text class="wm" x="1013.6" y="1345.9">SKV.PL SKV.PL SKV.PL SKV.PL SKV.PL SKV.PL SKV.PL SKV.PL SKV.PL SKV.PL SKV.PL SKV.PL SKV.PL SKV.PL SKV.PL</text>
<text class="wm" x="997.6" y="1360.2">SKV.PL SKV.PL SKV.PL SKV.PL SKV.PL SKV.PL SKV.PL SKV.PL SKV.PL SKV.PL SKV.PL SKV.PL SKV.PL SKV.PL SKV.PL</text>
<text class="wm" x="981.6" y="1374.5">SKV.PL SKV.PL SKV.PL SKV.PL SKV.PL SKV.PL SKV.PL SKV.PL SKV.PL SKV.PL SKV.PL SKV.PL SKV.PL SKV.PL SKV.PL</text>
<text class="wm" x="1013.6" y="1388.8">SKV.PL SKV.PL SKV.PL SKV.PL SKV.PL SKV.PL SKV.PL SKV.PL SKV.PL SKV.PL SKV.PL SKV.PL SKV.PL SKV.PL SKV.PL</text>
<text class="wm" x="997.6" y="1403.1">SKV.PL SKV.PL SKV.PL SKV.PL SKV.PL SKV.PL SKV.PL SKV.PL SKV.PL SKV.PL SKV.PL SKV.PL SKV.PL SKV.PL SKV.PL</text>
<text class="wm" x="981.6" y="1417.4">SKV.PL SKV.PL SKV.PL SKV.PL SKV.PL SKV.PL SKV.PL SKV.PL SKV.PL SKV.PL SKV.PL SKV.PL SKV.PL SKV.PL SKV.PL</text>
<text class="wm" x="1013.6" y="1431.7">SKV.PL SKV.PL SKV.PL SKV.PL SKV.PL SKV.PL SKV.PL SKV.PL SKV.PL SKV.PL SKV.PL SKV.PL SKV.PL SKV.PL SKV.PL</text>
<text class="wm" x="997.6" y="1446">SKV.PL SKV.PL SKV.PL SKV.PL SKV.PL SKV.PL SKV.PL SKV.PL SKV.PL SKV.PL SKV.PL SKV.PL SKV.PL SKV.PL SKV.PL</text>
</g></g>
<clipPath id="wc5"><polygon points="900,1060 1000,1000 1090,1120 1060,1270 870,1270"/></clipPath>
<g clip-path="url(#wc5)"><g transform="rotate(-45 980 1135)">
<text class="wm" x="795.9" y="950.9">SKV.PL SKV.PL SKV.PL SKV.PL SKV.PL SKV.PL SKV.PL SKV.PL SKV.PL</text>
<text class="wm" x="779.9" y="965.2">SKV.PL SKV.PL SKV.PL SKV.PL SKV.PL SKV.PL SKV.PL SKV.PL SKV.PL</text>
<text class="wm" x="763.9" y="979.5">SKV.PL SKV.PL SKV.PL SKV.PL SKV.PL SKV.PL SKV.PL SKV.PL SKV.PL</text>
<text class="wm" x="795.9" y="993.8">SKV.PL SKV.PL SKV.PL SKV.PL SKV.PL SKV.PL SKV.PL SKV.PL SKV.PL</text>
<text class="wm" x="779.9" y="1008.1">SKV.PL SKV.PL SKV.PL SKV.PL SKV.PL SKV.PL SKV.PL SKV.PL SKV.PL</text>
<text class="wm" x="763.9" y="1022.4">SKV.PL SKV.PL SKV.PL SKV.PL SKV.PL SKV.PL SKV.PL SKV.PL SKV.PL</text>
<text class="wm" x="795.9" y="1036.7">SKV.PL SKV.PL SKV.PL SKV.PL SKV.PL SKV.PL SKV.PL SKV.PL SKV.PL</text>
<text class="wm" x="779.9" y="1051">SKV.PL SKV.PL SKV.PL SKV.PL SKV.PL SKV.PL SKV.PL SKV.PL SKV.PL</text>
<text class="wm" x="763.9" y="1065.3">SKV.PL SKV.PL SKV.PL SKV.PL SKV.PL SKV.PL SKV.PL SKV.PL SKV.PL</text>
<text class="wm" x="795.9" y="1079.6">SKV.PL SKV.PL SKV.PL SKV.PL SKV.PL SKV.PL SKV.PL SKV.PL SKV.PL</text>
<text class="wm" x="779.9" y="1093.9">SKV.PL SKV.PL SKV.PL SKV.PL SKV.PL SKV.PL SKV.PL SKV.PL SKV.PL</text>
<text class="wm" x="763.9" y="1108.2">SKV.PL SKV.PL SKV.PL SKV.PL SKV.PL SKV.PL SKV.PL SKV.PL SKV.PL</text>
<text class="wm" x="795.9" y="1122.5">SKV.PL SKV.PL SKV.PL SKV.PL SKV.PL SKV.PL SKV.PL SKV.PL SKV.PL</text>
<text class="wm" x="779.9" y="1136.8">SKV.PL SKV.PL SKV.PL SKV.PL SKV.PL SKV.PL SKV.PL SKV.PL SKV.PL</text>
<text class="wm" x="763.9" y="1151.1">SKV.PL SKV.PL SKV.PL SKV.PL SKV.PL SKV.PL SKV.PL SKV.PL SKV.PL</text>
<text class="wm" x="795.9" y="1165.4">SKV.PL SKV.PL SKV.PL SKV.PL SKV.PL SKV.PL SKV.PL SKV.PL SKV.PL</text>
<text class="wm" x="779.9" y="1179.7">SKV.PL SKV.PL SKV.PL SKV.PL SKV.PL SKV.PL SKV.PL SKV.PL SKV.PL</text>
<text class="wm" x="763.9" y="1194">SKV.PL SKV.PL SKV.PL SKV.PL SKV.PL SKV.PL SKV.PL SKV.PL SKV.PL</text>
<text class="wm" x="795.9" y="1208.3">SKV.PL SKV.PL SKV.PL SKV.PL SKV.PL SKV.PL SKV.PL SKV.PL SKV.PL</text>
<text class="wm" x="779.9" y="1222.6">SKV.PL SKV.PL SKV.PL SKV.PL SKV.PL SKV.PL SKV.PL SKV.PL SKV.PL</text>
<text class="wm" x="763.9" y="1236.9">SKV.PL SKV.PL SKV.PL SKV.PL SKV.PL SKV.PL SKV.PL SKV.PL SKV.PL</text>
<text class="wm" x="795.9" y="1251.2">SKV.PL SKV.PL SKV.PL SKV.PL SKV.PL SKV.PL SKV.PL SKV.PL SKV.PL</text>
<text class="wm" x="779.9" y="1265.5">SKV.PL SKV.PL SKV.PL SKV.PL SKV.PL SKV.PL SKV.PL SKV.PL SKV.PL</text>
<text class="wm" x="763.9" y="1279.8">SKV.PL SKV.PL SKV.PL SKV.PL SKV.PL SKV.PL SKV.PL SKV.PL SKV.PL</text>
<text class="wm" x="795.9" y="1294.1">SKV.PL SKV.PL SKV.PL SKV.PL SKV.PL SKV.PL SKV.PL SKV.PL SKV.PL</text>
<text class="wm" x="779.9" y="1308.4">SKV.PL SKV.PL SKV.PL SKV.PL SKV.PL SKV.PL SKV.PL SKV.PL SKV.PL</text>
</g></g>
<clipPath id="wc6"><polygon points="240,1800 330,1700 520,1760 620,1870 700,2010 690,2130 600,2175 520,2100 440,2020 300,1960"/></clipPath>
<g clip-path="url(#wc6)"><g transform="rotate(-45 470 1937.5)">
<text class="wm" x="129.4" y="1596.9">SKV.PL SKV.PL SKV.PL SKV.PL SKV.PL SKV.PL SKV.PL SKV.PL SKV.PL SKV.PL SKV.PL SKV.PL SKV.PL SKV.PL SKV.PL SKV.PL</text>
<text class="wm" x="113.4" y="1611.2">SKV.PL SKV.PL SKV.PL SKV.PL SKV.PL SKV.PL SKV.PL SKV.PL SKV.PL SKV.PL SKV.PL SKV.PL SKV.PL SKV.PL SKV.PL SKV.PL</text>
<text class="wm" x="97.4" y="1625.5">SKV.PL SKV.PL SKV.PL SKV.PL SKV.PL SKV.PL SKV.PL SKV.PL SKV.PL SKV.PL SKV.PL SKV.PL SKV.PL SKV.PL SKV.PL SKV.PL</text>
<text class="wm" x="129.4" y="1639.8">SKV.PL SKV.PL SKV.PL SKV.PL SKV.PL SKV.PL SKV.PL SKV.PL SKV.PL SKV.PL SKV.PL SKV.PL SKV.PL SKV.PL SKV.PL SKV.PL</text>
<text class="wm" x="113.4" y="1654.1">SKV.PL SKV.PL SKV.PL SKV.PL SKV.PL SKV.PL SKV.PL SKV.PL SKV.PL SKV.PL SKV.PL SKV.PL SKV.PL SKV.PL SKV.PL SKV.PL</text>
<text class="wm" x="97.4" y="1668.4">SKV.PL SKV.PL SKV.PL SKV.PL SKV.PL SKV.PL SKV.PL SKV.PL SKV.PL SKV.PL SKV.PL SKV.PL SKV.PL SKV.PL SKV.PL SKV.PL</text>
<text class="wm" x="129.4" y="1682.7">SKV.PL SKV.PL SKV.PL SKV.PL SKV.PL SKV.PL SKV.PL SKV.PL SKV.PL SKV.PL SKV.PL SKV.PL SKV.PL SKV.PL SKV.PL SKV.PL</text>
<text class="wm" x="113.4" y="1697">SKV.PL SKV.PL SKV.PL SKV.PL SKV.PL SKV.PL SKV.PL SKV.PL SKV.PL SKV.PL SKV.PL SKV.PL SKV.PL SKV.PL SKV.PL SKV.PL</text>
<text class="wm" x="97.4" y="1711.3">SKV.PL SKV.PL SKV.PL SKV.PL SKV.PL SKV.PL SKV.PL SKV.PL SKV.PL SKV.PL SKV.PL SKV.PL SKV.PL SKV.PL SKV.PL SKV.PL</text>
<text class="wm" x="129.4" y="1725.6">SKV.PL SKV.PL SKV.PL SKV.PL SKV.PL SKV.PL SKV.PL SKV.PL SKV.PL SKV.PL SKV.PL SKV.PL SKV.PL SKV.PL SKV.PL SKV.PL</text>
<text class="wm" x="113.4" y="1739.9">SKV.PL SKV.PL SKV.PL SKV.PL SKV.PL SKV.PL SKV.PL SKV.PL SKV.PL SKV.PL SKV.PL SKV.PL SKV.PL SKV.PL SKV.PL SKV.PL</text>
<text class="wm" x="97.4" y="1754.2">SKV.PL SKV.PL SKV.PL SKV.PL SKV.PL SKV.PL SKV.PL SKV.PL SKV.PL SKV.PL SKV.PL SKV.PL SKV.PL SKV.PL SKV.PL SKV.PL</text>
<text class="wm" x="129.4" y="1768.5">SKV.PL SKV.PL SKV.PL SKV.PL SKV.PL SKV.PL SKV.PL SKV.PL SKV.PL SKV.PL SKV.PL SKV.PL SKV.PL SKV.PL SKV.PL SKV.PL</text>
<text class="wm" x="113.4" y="1782.8">SKV.PL SKV.PL SKV.PL SKV.PL SKV.PL SKV.PL SKV.PL SKV.PL SKV.PL SKV.PL SKV.PL SKV.PL SKV.PL SKV.PL SKV.PL SKV.PL</text>
<text class="wm" x="97.4" y="1797.1">SKV.PL SKV.PL SKV.PL SKV.PL SKV.PL SKV.PL SKV.PL SKV.PL SKV.PL SKV.PL SKV.PL SKV.PL SKV.PL SKV.PL SKV.PL SKV.PL</text>
<text class="wm" x="129.4" y="1811.4">SKV.PL SKV.PL SKV.PL SKV.PL SKV.PL SKV.PL SKV.PL SKV.PL SKV.PL SKV.PL SKV.PL SKV.PL SKV.PL SKV.PL SKV.PL SKV.PL</text>
<text class="wm" x="113.4" y="1825.7">SKV.PL SKV.PL SKV.PL SKV.PL SKV.PL SKV.PL SKV.PL SKV.PL SKV.PL SKV.PL SKV.PL SKV.PL SKV.PL SKV.PL SKV.PL SKV.PL</text>
<text class="wm" x="97.4" y="1840">SKV.PL SKV.PL SKV.PL SKV.PL SKV.PL SKV.PL SKV.PL SKV.PL SKV.PL SKV.PL SKV.PL SKV.PL SKV.PL SKV.PL SKV.PL SKV.PL</text>
<text class="wm" x="129.4" y="1854.3">SKV.PL SKV.PL SKV.PL SKV.PL SKV.PL SKV.PL SKV.PL SKV.PL SKV.PL SKV.PL SKV.PL SKV.PL SKV.PL SKV.PL SKV.PL SKV.PL</text>
<text class="wm" x="113.4" y="1868.6">SKV.PL SKV.PL SKV.PL SKV.PL SKV.PL SKV.PL SKV.PL SKV.PL SKV.PL SKV.PL SKV.PL SKV.PL SKV.PL SKV.PL SKV.PL SKV.PL</text>
<text class="wm" x="97.4" y="1882.9">SKV.PL SKV.PL SKV.PL SKV.PL SKV.PL SKV.PL SKV.PL SKV.PL SKV.PL SKV.PL SKV.PL SKV.PL SKV.PL SKV.PL SKV.PL SKV.PL</text>
<text class="wm" x="129.4" y="1897.2">SKV.PL SKV.PL SKV.PL SKV.PL SKV.PL SKV.PL SKV.PL SKV.PL SKV.PL SKV.PL SKV.PL SKV.PL SKV.PL SKV.PL SKV.PL SKV.PL</text>
<text class="wm" x="113.4" y="1911.5">SKV.PL SKV.PL SKV.PL SKV.PL SKV.PL SKV.PL SKV.PL SKV.PL SKV.PL SKV.PL SKV.PL SKV.PL SKV.PL SKV.PL SKV.PL SKV.PL</text>
<text class="wm" x="97.4" y="1925.8">SKV.PL SKV.PL SKV.PL SKV.PL SKV.PL SKV.PL SKV.PL SKV.PL SKV.PL SKV.PL SKV.PL SKV.PL SKV.PL SKV.PL SKV.PL SKV.PL</text>
<text class="wm" x="129.4" y="1940.1">SKV.PL SKV.PL SKV.PL SKV.PL SKV.PL SKV.PL SKV.PL SKV.PL SKV.PL SKV.PL SKV.PL SKV.PL SKV.PL SKV.PL SKV.PL SKV.PL</text>
<text class="wm" x="113.4" y="1954.4">SKV.PL SKV.PL SKV.PL SKV.PL SKV.PL SKV.PL SKV.PL SKV.PL SKV.PL SKV.PL SKV.PL SKV.PL SKV.PL SKV.PL SKV.PL SKV.PL</text>
<text class="wm" x="97.4" y="1968.7">SKV.PL SKV.PL SKV.PL SKV.PL SKV.PL SKV.PL SKV.PL SKV.PL SKV.PL SKV.PL SKV.PL SKV.PL SKV.PL SKV.PL SKV.PL SKV.PL</text>
<text class="wm" x="129.4" y="1983">SKV.PL SKV.PL SKV.PL SKV.PL SKV.PL SKV.PL SKV.PL SKV.PL SKV.PL SKV.PL SKV.PL SKV.PL SKV.PL SKV.PL SKV.PL SKV.PL</text>
<text class="wm" x="113.4" y="1997.3">SKV.PL SKV.PL SKV.PL SKV.PL SKV.PL SKV.PL SKV.PL SKV.PL SKV.PL SKV.PL SKV.PL SKV.PL SKV.PL SKV.PL SKV.PL SKV.PL</text>
<text class="wm" x="97.4" y="2011.6">SKV.PL SKV.PL SKV.PL SKV.PL SKV.PL SKV.PL SKV.PL SKV.PL SKV.PL SKV.PL SKV.PL SKV.PL SKV.PL SKV.PL SKV.PL SKV.PL</text>
<text class="wm" x="129.4" y="2025.9">SKV.PL SKV.PL SKV.PL SKV.PL SKV.PL SKV.PL SKV.PL SKV.PL SKV.PL SKV.PL SKV.PL SKV.PL SKV.PL SKV.PL SKV.PL SKV.PL</text>
<text class="wm" x="113.4" y="2040.2">SKV.PL SKV.PL SKV.PL SKV.PL SKV.PL SKV.PL SKV.PL SKV.PL SKV.PL SKV.PL SKV.PL SKV.PL SKV.PL SKV.PL SKV.PL SKV.PL</text>
<text class="wm" x="97.4" y="2054.5">SKV.PL SKV.PL SKV.PL SKV.PL SKV.PL SKV.PL SKV.PL SKV.PL SKV.PL SKV.PL SKV.PL SKV.PL SKV.PL SKV.PL SKV.PL SKV.PL</text>
<text class="wm" x="129.4" y="2068.8">SKV.PL SKV.PL SKV.PL SKV.PL SKV.PL SKV.PL SKV.PL SKV.PL SKV.PL SKV.PL SKV.PL SKV.PL SKV.PL SKV.PL SKV.PL SKV.PL</text>
<text class="wm" x="113.4" y="2083.1">SKV.PL SKV.PL SKV.PL SKV.PL SKV.PL SKV.PL SKV.PL SKV.PL SKV.PL SKV.PL SKV.PL SKV.PL SKV.PL SKV.PL SKV.PL SKV.PL</text>
<text class="wm" x="97.4" y="2097.4">SKV.PL SKV.PL SKV.PL SKV.PL SKV.PL SKV.PL SKV.PL SKV.PL SKV.PL SKV.PL SKV.PL SKV.PL SKV.PL SKV.PL SKV.PL SKV.PL</text>
<text class="wm" x="129.4" y="2111.7">SKV.PL SKV.PL SKV.PL SKV.PL SKV.PL SKV.PL SKV.PL SKV.PL SKV.PL SKV.PL SKV.PL SKV.PL SKV.PL SKV.PL SKV.PL SKV.PL</text>
<text class="wm" x="113.4" y="2126">SKV.PL SKV.PL SKV.PL SKV.PL SKV.PL SKV.PL SKV.PL SKV.PL SKV.PL SKV.PL SKV.PL SKV.PL SKV.PL SKV.PL SKV.PL SKV.PL</text>
<text class="wm" x="97.4" y="2140.3">SKV.PL SKV.PL SKV.PL SKV.PL SKV.PL SKV.PL SKV.PL SKV.PL SKV.PL SKV.PL SKV.PL SKV.PL SKV.PL SKV.PL SKV.PL SKV.PL</text>
<text class="wm" x="129.4" y="2154.6">SKV.PL SKV.PL SKV.PL SKV.PL SKV.PL SKV.PL SKV.PL SKV.PL SKV.PL SKV.PL SKV.PL SKV.PL SKV.PL SKV.PL SKV.PL SKV.PL</text>
<text class="wm" x="113.4" y="2168.9">SKV.PL SKV.PL SKV.PL SKV.PL SKV.PL SKV.PL SKV.PL SKV.PL SKV.PL SKV.PL SKV.PL SKV.PL SKV.PL SKV.PL SKV.PL SKV.PL</text>
<text class="wm" x="97.4" y="2183.2">SKV.PL SKV.PL SKV.PL SKV.PL SKV.PL SKV.PL SKV.PL SKV.PL SKV.PL SKV.PL SKV.PL SKV.PL SKV.PL SKV.PL SKV.PL SKV.PL</text>
<text class="wm" x="129.4" y="2197.5">SKV.PL SKV.PL SKV.PL SKV.PL SKV.PL SKV.PL SKV.PL SKV.PL SKV.PL SKV.PL SKV.PL SKV.PL SKV.PL SKV.PL SKV.PL SKV.PL</text>
<text class="wm" x="113.4" y="2211.8">SKV.PL SKV.PL SKV.PL SKV.PL SKV.PL SKV.PL SKV.PL SKV.PL SKV.PL SKV.PL SKV.PL SKV.PL SKV.PL SKV.PL SKV.PL SKV.PL</text>
<text class="wm" x="97.4" y="2226.1">SKV.PL SKV.PL SKV.PL SKV.PL SKV.PL SKV.PL SKV.PL SKV.PL SKV.PL SKV.PL SKV.PL SKV.PL SKV.PL SKV.PL SKV.PL SKV.PL</text>
<text class="wm" x="129.4" y="2240.4">SKV.PL SKV.PL SKV.PL SKV.PL SKV.PL SKV.PL SKV.PL SKV.PL SKV.PL SKV.PL SKV.PL SKV.PL SKV.PL SKV.PL SKV.PL SKV.PL</text>
<text class="wm" x="113.4" y="2254.7">SKV.PL SKV.PL SKV.PL SKV.PL SKV.PL SKV.PL SKV.PL SKV.PL SKV.PL SKV.PL SKV.PL SKV.PL SKV.PL SKV.PL SKV.PL SKV.PL</text>
<text class="wm" x="97.4" y="2269">SKV.PL SKV.PL SKV.PL SKV.PL SKV.PL SKV.PL SKV.PL SKV.PL SKV.PL SKV.PL SKV.PL SKV.PL SKV.PL SKV.PL SKV.PL SKV.PL</text>
</g></g>
<clipPath id="wc7"><polygon points="560,1420 700,1300 980,1295 1100,1450 1090,1800 960,1990 720,2000 640,1850"/></clipPath>
<g clip-path="url(#wc7)"><g transform="rotate(-45 830 1647.5)">
<text class="wm" x="376" y="1193.5">SKV.PL SKV.PL SKV.PL SKV.PL SKV.PL SKV.PL SKV.PL SKV.PL SKV.PL SKV.PL SKV.PL SKV.PL SKV.PL SKV.PL SKV.PL SKV.PL SKV.PL SKV.PL SKV.PL SKV.PL SKV.PL</text>
<text class="wm" x="360" y="1207.8">SKV.PL SKV.PL SKV.PL SKV.PL SKV.PL SKV.PL SKV.PL SKV.PL SKV.PL SKV.PL SKV.PL SKV.PL SKV.PL SKV.PL SKV.PL SKV.PL SKV.PL SKV.PL SKV.PL SKV.PL SKV.PL</text>
<text class="wm" x="344" y="1222.1">SKV.PL SKV.PL SKV.PL SKV.PL SKV.PL SKV.PL SKV.PL SKV.PL SKV.PL SKV.PL SKV.PL SKV.PL SKV.PL SKV.PL SKV.PL SKV.PL SKV.PL SKV.PL SKV.PL SKV.PL SKV.PL</text>
<text class="wm" x="376" y="1236.4">SKV.PL SKV.PL SKV.PL SKV.PL SKV.PL SKV.PL SKV.PL SKV.PL SKV.PL SKV.PL SKV.PL SKV.PL SKV.PL SKV.PL SKV.PL SKV.PL SKV.PL SKV.PL SKV.PL SKV.PL SKV.PL</text>
<text class="wm" x="360" y="1250.7">SKV.PL SKV.PL SKV.PL SKV.PL SKV.PL SKV.PL SKV.PL SKV.PL SKV.PL SKV.PL SKV.PL SKV.PL SKV.PL SKV.PL SKV.PL SKV.PL SKV.PL SKV.PL SKV.PL SKV.PL SKV.PL</text>
<text class="wm" x="344" y="1265">SKV.PL SKV.PL SKV.PL SKV.PL SKV.PL SKV.PL SKV.PL SKV.PL SKV.PL SKV.PL SKV.PL SKV.PL SKV.PL SKV.PL SKV.PL SKV.PL SKV.PL SKV.PL SKV.PL SKV.PL SKV.PL</text>
<text class="wm" x="376" y="1279.3">SKV.PL SKV.PL SKV.PL SKV.PL SKV.PL SKV.PL SKV.PL SKV.PL SKV.PL SKV.PL SKV.PL SKV.PL SKV.PL SKV.PL SKV.PL SKV.PL SKV.PL SKV.PL SKV.PL SKV.PL SKV.PL</text>
<text class="wm" x="360" y="1293.6">SKV.PL SKV.PL SKV.PL SKV.PL SKV.PL SKV.PL SKV.PL SKV.PL SKV.PL SKV.PL SKV.PL SKV.PL SKV.PL SKV.PL SKV.PL SKV.PL SKV.PL SKV.PL SKV.PL SKV.PL SKV.PL</text>
<text class="wm" x="344" y="1307.9">SKV.PL SKV.PL SKV.PL SKV.PL SKV.PL SKV.PL SKV.PL SKV.PL SKV.PL SKV.PL SKV.PL SKV.PL SKV.PL SKV.PL SKV.PL SKV.PL SKV.PL SKV.PL SKV.PL SKV.PL SKV.PL</text>
<text class="wm" x="376" y="1322.2">SKV.PL SKV.PL SKV.PL SKV.PL SKV.PL SKV.PL SKV.PL SKV.PL SKV.PL SKV.PL SKV.PL SKV.PL SKV.PL SKV.PL SKV.PL SKV.PL SKV.PL SKV.PL SKV.PL SKV.PL SKV.PL</text>
<text class="wm" x="360" y="1336.5">SKV.PL SKV.PL SKV.PL SKV.PL SKV.PL SKV.PL SKV.PL SKV.PL SKV.PL SKV.PL SKV.PL SKV.PL SKV.PL SKV.PL SKV.PL SKV.PL SKV.PL SKV.PL SKV.PL SKV.PL SKV.PL</text>
<text class="wm" x="344" y="1350.8">SKV.PL SKV.PL SKV.PL SKV.PL SKV.PL SKV.PL SKV.PL SKV.PL SKV.PL SKV.PL SKV.PL SKV.PL SKV.PL SKV.PL SKV.PL SKV.PL SKV.PL SKV.PL SKV.PL SKV.PL SKV.PL</text>
<text class="wm" x="376" y="1365.1">SKV.PL SKV.PL SKV.PL SKV.PL SKV.PL SKV.PL SKV.PL SKV.PL SKV.PL SKV.PL SKV.PL SKV.PL SKV.PL SKV.PL SKV.PL SKV.PL SKV.PL SKV.PL SKV.PL SKV.PL SKV.PL</text>
<text class="wm" x="360" y="1379.4">SKV.PL SKV.PL SKV.PL SKV.PL SKV.PL SKV.PL SKV.PL SKV.PL SKV.PL SKV.PL SKV.PL SKV.PL SKV.PL SKV.PL SKV.PL SKV.PL SKV.PL SKV.PL SKV.PL SKV.PL SKV.PL</text>
<text class="wm" x="344" y="1393.7">SKV.PL SKV.PL SKV.PL SKV.PL SKV.PL SKV.PL SKV.PL SKV.PL SKV.PL SKV.PL SKV.PL SKV.PL SKV.PL SKV.PL SKV.PL SKV.PL SKV.PL SKV.PL SKV.PL SKV.PL SKV.PL</text>
<text class="wm" x="376" y="1408">SKV.PL SKV.PL SKV.PL SKV.PL SKV.PL SKV.PL SKV.PL SKV.PL SKV.PL SKV.PL SKV.PL SKV.PL SKV.PL SKV.PL SKV.PL SKV.PL SKV.PL SKV.PL SKV.PL SKV.PL SKV.PL</text>
<text class="wm" x="360" y="1422.3">SKV.PL SKV.PL SKV.PL SKV.PL SKV.PL SKV.PL SKV.PL SKV.PL SKV.PL SKV.PL SKV.PL SKV.PL SKV.PL SKV.PL SKV.PL SKV.PL SKV.PL SKV.PL SKV.PL SKV.PL SKV.PL</text>
<text class="wm" x="344" y="1436.6">SKV.PL SKV.PL SKV.PL SKV.PL SKV.PL SKV.PL SKV.PL SKV.PL SKV.PL SKV.PL SKV.PL SKV.PL SKV.PL SKV.PL SKV.PL SKV.PL SKV.PL SKV.PL SKV.PL SKV.PL SKV.PL</text>
<text class="wm" x="376" y="1450.9">SKV.PL SKV.PL SKV.PL SKV.PL SKV.PL SKV.PL SKV.PL SKV.PL SKV.PL SKV.PL SKV.PL SKV.PL SKV.PL SKV.PL SKV.PL SKV.PL SKV.PL SKV.PL SKV.PL SKV.PL SKV.PL</text>
<text class="wm" x="360" y="1465.2">SKV.PL SKV.PL SKV.PL SKV.PL SKV.PL SKV.PL SKV.PL SKV.PL SKV.PL SKV.PL SKV.PL SKV.PL SKV.PL SKV.PL SKV.PL SKV.PL SKV.PL SKV.PL SKV.PL SKV.PL SKV.PL</text>
<text class="wm" x="344" y="1479.5">SKV.PL SKV.PL SKV.PL SKV.PL SKV.PL SKV.PL SKV.PL SKV.PL SKV.PL SKV.PL SKV.PL SKV.PL SKV.PL SKV.PL SKV.PL SKV.PL SKV.PL SKV.PL SKV.PL SKV.PL SKV.PL</text>
<text class="wm" x="376" y="1493.8">SKV.PL SKV.PL SKV.PL SKV.PL SKV.PL SKV.PL SKV.PL SKV.PL SKV.PL SKV.PL SKV.PL SKV.PL SKV.PL SKV.PL SKV.PL SKV.PL SKV.PL SKV.PL SKV.PL SKV.PL SKV.PL</text>
<text class="wm" x="360" y="1508.1">SKV.PL SKV.PL SKV.PL SKV.PL SKV.PL SKV.PL SKV.PL SKV.PL SKV.PL SKV.PL SKV.PL SKV.PL SKV.PL SKV.PL SKV.PL SKV.PL SKV.PL SKV.PL SKV.PL SKV.PL SKV.PL</text>
<text class="wm" x="344" y="1522.4">SKV.PL SKV.PL SKV.PL SKV.PL SKV.PL SKV.PL SKV.PL SKV.PL SKV.PL SKV.PL SKV.PL SKV.PL SKV.PL SKV.PL SKV.PL SKV.PL SKV.PL SKV.PL SKV.PL SKV.PL SKV.PL</text>
<text class="wm" x="376" y="1536.7">SKV.PL SKV.PL SKV.PL SKV.PL SKV.PL SKV.PL SKV.PL SKV.PL SKV.PL SKV.PL SKV.PL SKV.PL SKV.PL SKV.PL SKV.PL SKV.PL SKV.PL SKV.PL SKV.PL SKV.PL SKV.PL</text>
<text class="wm" x="360" y="1551">SKV.PL SKV.PL SKV.PL SKV.PL SKV.PL SKV.PL SKV.PL SKV.PL SKV.PL SKV.PL SKV.PL SKV.PL SKV.PL SKV.PL SKV.PL SKV.PL SKV.PL SKV.PL SKV.PL SKV.PL SKV.PL</text>
<text class="wm" x="344" y="1565.3">SKV.PL SKV.PL SKV.PL SKV.PL SKV.PL SKV.PL SKV.PL SKV.PL SKV.PL SKV.PL SKV.PL SKV.PL SKV.PL SKV.PL SKV.PL SKV.PL SKV.PL SKV.PL SKV.PL SKV.PL SKV.PL</text>
<text class="wm" x="376" y="1579.6">SKV.PL SKV.PL SKV.PL SKV.PL SKV.PL SKV.PL SKV.PL SKV.PL SKV.PL SKV.PL SKV.PL SKV.PL SKV.PL SKV.PL SKV.PL SKV.PL SKV.PL SKV.PL SKV.PL SKV.PL SKV.PL</text>
<text class="wm" x="360" y="1593.9">SKV.PL SKV.PL SKV.PL SKV.PL SKV.PL SKV.PL SKV.PL SKV.PL SKV.PL SKV.PL SKV.PL SKV.PL SKV.PL SKV.PL SKV.PL SKV.PL SKV.PL SKV.PL SKV.PL SKV.PL SKV.PL</text>
<text class="wm" x="344" y="1608.2">SKV.PL SKV.PL SKV.PL SKV.PL SKV.PL SKV.PL SKV.PL SKV.PL SKV.PL SKV.PL SKV.PL SKV.PL SKV.PL SKV.PL SKV.PL SKV.PL SKV.PL SKV.PL SKV.PL SKV.PL SKV.PL</text>
<text class="wm" x="376" y="1622.5">SKV.PL SKV.PL SKV.PL SKV.PL SKV.PL SKV.PL SKV.PL SKV.PL SKV.PL SKV.PL SKV.PL SKV.PL SKV.PL SKV.PL SKV.PL SKV.PL SKV.PL SKV.PL SKV.PL SKV.PL SKV.PL</text>
<text class="wm" x="360" y="1636.8">SKV.PL SKV.PL SKV.PL SKV.PL SKV.PL SKV.PL SKV.PL SKV.PL SKV.PL SKV.PL SKV.PL SKV.PL SKV.PL SKV.PL SKV.PL SKV.PL SKV.PL SKV.PL SKV.PL SKV.PL SKV.PL</text>
<text class="wm" x="344" y="1651.1">SKV.PL SKV.PL SKV.PL SKV.PL SKV.PL SKV.PL SKV.PL SKV.PL SKV.PL SKV.PL SKV.PL SKV.PL SKV.PL SKV.PL SKV.PL SKV.PL SKV.PL SKV.PL SKV.PL SKV.PL SKV.PL</text>
<text class="wm" x="376" y="1665.4">SKV.PL SKV.PL SKV.PL SKV.PL SKV.PL SKV.PL SKV.PL SKV.PL SKV.PL SKV.PL SKV.PL SKV.PL SKV.PL SKV.PL SKV.PL SKV.PL SKV.PL SKV.PL SKV.PL SKV.PL SKV.PL</text>
<text class="wm" x="360" y="1679.7">SKV.PL SKV.PL SKV.PL SKV.PL SKV.PL SKV.PL SKV.PL SKV.PL SKV.PL SKV.PL SKV.PL SKV.PL SKV.PL SKV.PL SKV.PL SKV.PL SKV.PL SKV.PL SKV.PL SKV.PL SKV.PL</text>
<text class="wm" x="344" y="1694">SKV.PL SKV.PL SKV.PL SKV.PL SKV.PL SKV.PL SKV.PL SKV.PL SKV.PL SKV.PL SKV.PL SKV.PL SKV.PL SKV.PL SKV.PL SKV.PL SKV.PL SKV.PL SKV.PL SKV.PL SKV.PL</text>
<text class="wm" x="376" y="1708.3">SKV.PL SKV.PL SKV.PL SKV.PL SKV.PL SKV.PL SKV.PL SKV.PL SKV.PL SKV.PL SKV.PL SKV.PL SKV.PL SKV.PL SKV.PL SKV.PL SKV.PL SKV.PL SKV.PL SKV.PL SKV.PL</text>
<text class="wm" x="360" y="1722.6">SKV.PL SKV.PL SKV.PL SKV.PL SKV.PL SKV.PL SKV.PL SKV.PL SKV.PL SKV.PL SKV.PL SKV.PL SKV.PL SKV.PL SKV.PL SKV.PL SKV.PL SKV.PL SKV.PL SKV.PL SKV.PL</text>
<text class="wm" x="344" y="1736.9">SKV.PL SKV.PL SKV.PL SKV.PL SKV.PL SKV.PL SKV.PL SKV.PL SKV.PL SKV.PL SKV.PL SKV.PL SKV.PL SKV.PL SKV.PL SKV.PL SKV.PL SKV.PL SKV.PL SKV.PL SKV.PL</text>
<text class="wm" x="376" y="1751.2">SKV.PL SKV.PL SKV.PL SKV.PL SKV.PL SKV.PL SKV.PL SKV.PL SKV.PL SKV.PL SKV.PL SKV.PL SKV.PL SKV.PL SKV.PL SKV.PL SKV.PL SKV.PL SKV.PL SKV.PL SKV.PL</text>
<text class="wm" x="360" y="1765.5">SKV.PL SKV.PL SKV.PL SKV.PL SKV.PL SKV.PL SKV.PL SKV.PL SKV.PL SKV.PL SKV.PL SKV.PL SKV.PL SKV.PL SKV.PL SKV.PL SKV.PL SKV.PL SKV.PL SKV.PL SKV.PL</text>
<text class="wm" x="344" y="1779.8">SKV.PL SKV.PL SKV.PL SKV.PL SKV.PL SKV.PL SKV.PL SKV.PL SKV.PL SKV.PL SKV.PL SKV.PL SKV.PL SKV.PL SKV.PL SKV.PL SKV.PL SKV.PL SKV.PL SKV.PL SKV.PL</text>
<text class="wm" x="376" y="1794.1">SKV.PL SKV.PL SKV.PL SKV.PL SKV.PL SKV.PL SKV.PL SKV.PL SKV.PL SKV.PL SKV.PL SKV.PL SKV.PL SKV.PL SKV.PL SKV.PL SKV.PL SKV.PL SKV.PL SKV.PL SKV.PL</text>
<text class="wm" x="360" y="1808.4">SKV.PL SKV.PL SKV.PL SKV.PL SKV.PL SKV.PL SKV.PL SKV.PL SKV.PL SKV.PL SKV.PL SKV.PL SKV.PL SKV.PL SKV.PL SKV.PL SKV.PL SKV.PL SKV.PL SKV.PL SKV.PL</text>
<text class="wm" x="344" y="1822.7">SKV.PL SKV.PL SKV.PL SKV.PL SKV.PL SKV.PL SKV.PL SKV.PL SKV.PL SKV.PL SKV.PL SKV.PL SKV.PL SKV.PL SKV.PL SKV.PL SKV.PL SKV.PL SKV.PL SKV.PL SKV.PL</text>
<text class="wm" x="376" y="1837">SKV.PL SKV.PL SKV.PL SKV.PL SKV.PL SKV.PL SKV.PL SKV.PL SKV.PL SKV.PL SKV.PL SKV.PL SKV.PL SKV.PL SKV.PL SKV.PL SKV.PL SKV.PL SKV.PL SKV.PL SKV.PL</text>
<text class="wm" x="360" y="1851.3">SKV.PL SKV.PL SKV.PL SKV.PL SKV.PL SKV.PL SKV.PL SKV.PL SKV.PL SKV.PL SKV.PL SKV.PL SKV.PL SKV.PL SKV.PL SKV.PL SKV.PL SKV.PL SKV.PL SKV.PL SKV.PL</text>
<text class="wm" x="344" y="1865.6">SKV.PL SKV.PL SKV.PL SKV.PL SKV.PL SKV.PL SKV.PL SKV.PL SKV.PL SKV.PL SKV.PL SKV.PL SKV.PL SKV.PL SKV.PL SKV.PL SKV.PL SKV.PL SKV.PL SKV.PL SKV.PL</text>
<text class="wm" x="376" y="1879.9">SKV.PL SKV.PL SKV.PL SKV.PL SKV.PL SKV.PL SKV.PL SKV.PL SKV.PL SKV.PL SKV.PL SKV.PL SKV.PL SKV.PL SKV.PL SKV.PL SKV.PL SKV.PL SKV.PL SKV.PL SKV.PL</text>
<text class="wm" x="360" y="1894.2">SKV.PL SKV.PL SKV.PL SKV.PL SKV.PL SKV.PL SKV.PL SKV.PL SKV.PL SKV.PL SKV.PL SKV.PL SKV.PL SKV.PL SKV.PL SKV.PL SKV.PL SKV.PL SKV.PL SKV.PL SKV.PL</text>
<text class="wm" x="344" y="1908.5">SKV.PL SKV.PL SKV.PL SKV.PL SKV.PL SKV.PL SKV.PL SKV.PL SKV.PL SKV.PL SKV.PL SKV.PL SKV.PL SKV.PL SKV.PL SKV.PL SKV.PL SKV.PL SKV.PL SKV.PL SKV.PL</text>
<text class="wm" x="376" y="1922.8">SKV.PL SKV.PL SKV.PL SKV.PL SKV.PL SKV.PL SKV.PL SKV.PL SKV.PL SKV.PL SKV.PL SKV.PL SKV.PL SKV.PL SKV.PL SKV.PL SKV.PL SKV.PL SKV.PL SKV.PL SKV.PL</text>
<text class="wm" x="360" y="1937.1">SKV.PL SKV.PL SKV.PL SKV.PL SKV.PL SKV.PL SKV.PL SKV.PL SKV.PL SKV.PL SKV.PL SKV.PL SKV.PL SKV.PL SKV.PL SKV.PL SKV.PL SKV.PL SKV.PL SKV.PL SKV.PL</text>
<text class="wm" x="344" y="1951.4">SKV.PL SKV.PL SKV.PL SKV.PL SKV.PL SKV.PL SKV.PL SKV.PL SKV.PL SKV.PL SKV.PL SKV.PL SKV.PL SKV.PL SKV.PL SKV.PL SKV.PL SKV.PL SKV.PL SKV.PL SKV.PL</text>
<text class="wm" x="376" y="1965.7">SKV.PL SKV.PL SKV.PL SKV.PL SKV.PL SKV.PL SKV.PL SKV.PL SKV.PL SKV.PL SKV.PL SKV.PL SKV.PL SKV.PL SKV.PL SKV.PL SKV.PL SKV.PL SKV.PL SKV.PL SKV.PL</text>
<text class="wm" x="360" y="1980">SKV.PL SKV.PL SKV.PL SKV.PL SKV.PL SKV.PL SKV.PL SKV.PL SKV.PL SKV.PL SKV.PL SKV.PL SKV.PL SKV.PL SKV.PL SKV.PL SKV.PL SKV.PL SKV.PL SKV.PL SKV.PL</text>
<text class="wm" x="344" y="1994.3">SKV.PL SKV.PL SKV.PL SKV.PL SKV.PL SKV.PL SKV.PL SKV.PL SKV.PL SKV.PL SKV.PL SKV.PL SKV.PL SKV.PL SKV.PL SKV.PL SKV.PL SKV.PL SKV.PL SKV.PL SKV.PL</text>
<text class="wm" x="376" y="2008.6">SKV.PL SKV.PL SKV.PL SKV.PL SKV.PL SKV.PL SKV.PL SKV.PL SKV.PL SKV.PL SKV.PL SKV.PL SKV.PL SKV.PL SKV.PL SKV.PL SKV.PL SKV.PL SKV.PL SKV.PL SKV.PL</text>
<text class="wm" x="360" y="2022.9">SKV.PL SKV.PL SKV.PL SKV.PL SKV.PL SKV.PL SKV.PL SKV.PL SKV.PL SKV.PL SKV.PL SKV.PL SKV.PL SKV.PL SKV.PL SKV.PL SKV.PL SKV.PL SKV.PL SKV.PL SKV.PL</text>
<text class="wm" x="344" y="2037.2">SKV.PL SKV.PL SKV.PL SKV.PL SKV.PL SKV.PL SKV.PL SKV.PL SKV.PL SKV.PL SKV.PL SKV.PL SKV.PL SKV.PL SKV.PL SKV.PL SKV.PL SKV.PL SKV.PL SKV.PL SKV.PL</text>
<text class="wm" x="376" y="2051.5">SKV.PL SKV.PL SKV.PL SKV.PL SKV.PL SKV.PL SKV.PL SKV.PL SKV.PL SKV.PL SKV.PL SKV.PL SKV.PL SKV.PL SKV.PL SKV.PL SKV.PL SKV.PL SKV.PL SKV.PL SKV.PL</text>
<text class="wm" x="360" y="2065.8">SKV.PL SKV.PL SKV.PL SKV.PL SKV.PL SKV.PL SKV.PL SKV.PL SKV.PL SKV.PL SKV.PL SKV.PL SKV.PL SKV.PL SKV.PL SKV.PL SKV.PL SKV.PL SKV.PL SKV.PL SKV.PL</text>
<text class="wm" x="344" y="2080.1">SKV.PL SKV.PL SKV.PL SKV.PL SKV.PL SKV.PL SKV.PL SKV.PL SKV.PL SKV.PL SKV.PL SKV.PL SKV.PL SKV.PL SKV.PL SKV.PL SKV.PL SKV.PL SKV.PL SKV.PL SKV.PL</text>
<text class="wm" x="376" y="2094.4">SKV.PL SKV.PL SKV.PL SKV.PL SKV.PL SKV.PL SKV.PL SKV.PL SKV.PL SKV.PL SKV.PL SKV.PL SKV.PL SKV.PL SKV.PL SKV.PL SKV.PL SKV.PL SKV.PL SKV.PL SKV.PL</text>
</g></g>
<polygon class="wg" points="1809.9,1040.3 1939.1,1064.4 1921.9,1186.9 1791.1,1174.4 1750,1282.2 1856,1360 1787.3,1462.9 1674.8,1394.9 1591,1474.2 1652.8,1590.2 1546.3,1653.2 1474.5,1543.1 1364.5,1578.2 1369.8,1709.5 1246.6,1720 1229.6,1589.6 1115.3,1573.6 1063.1,1694.2 947.5,1650.2 988.8,1525.4 892.8,1461.3 793.4,1547.3 708.4,1457.5 799.8,1363 741.1,1263.6 614.2,1298 576.5,1180.2 699.9,1134.7 690.1,1019.7 560.9,995.6 578.1,873.1 708.9,885.6 750,777.8 644,700 712.7,597.1 825.2,665.1 909,585.8 847.2,469.8 953.7,406.8 1025.5,516.9 1135.5,481.8 1130.2,350.5 1253.4,340 1270.4,470.4 1384.7,486.4 1436.9,365.8 1552.5,409.8 1511.2,534.6 1607.2,598.7 1706.6,512.7 1791.6,602.5 1700.2,697 1758.9,796.4 1885.8,762 1923.5,879.8 1800.1,925.3"/>
<circle class="wg" cx="1250" cy="1030" r="360"/>
<polygon class="wg" points="2476.7,773.5 2557.8,777.1 2557.8,862.9 2476.7,866.5 2456.2,943.1 2524.6,986.8 2481.7,1061 2409.7,1023.6 2353.6,1079.7 2391,1151.7 2316.8,1194.6 2273.1,1126.2 2196.5,1146.7 2192.9,1227.8 2107.1,1227.8 2103.5,1146.7 2026.9,1126.2 1983.2,1194.6 1909,1151.7 1946.4,1079.7 1890.3,1023.6 1818.3,1061 1775.4,986.8 1843.8,943.1 1823.3,866.5 1742.2,862.9 1742.2,777.1 1823.3,773.5 1843.8,696.9 1775.4,653.2 1818.3,579 1890.3,616.4 1946.4,560.3 1909,488.3 1983.2,445.4 2026.9,513.8 2103.5,493.3 2107.1,412.2 2192.9,412.2 2196.5,493.3 2273.1,513.8 2316.8,445.4 2391,488.3 2353.6,560.3 2409.7,616.4 2481.7,579 2524.6,653.2 2456.2,696.9"/>
<polygon class="wg" points="999.8,2059.9 1079.1,2076.5 1065.3,2154.7 985.2,2143.2 954.7,2208.5 1015,2262.5 964,2323.3 900.3,2273.3 841.3,2314.6 866.6,2391.5 791.9,2418.7 761.9,2343.6 690.1,2349.8 673.5,2429.1 595.3,2415.3 606.8,2335.2 541.5,2304.7 487.5,2365 426.7,2314 476.7,2250.3 435.4,2191.3 358.5,2216.6 331.3,2141.9 406.4,2111.9 400.2,2040.1 320.9,2023.5 334.7,1945.3 414.8,1956.8 445.3,1891.5 385,1837.5 436,1776.7 499.7,1826.7 558.7,1785.4 533.4,1708.5 608.1,1681.3 638.1,1756.4 709.9,1750.2 726.5,1670.9 804.7,1684.7 793.2,1764.8 858.5,1795.3 912.5,1735 973.3,1786 923.3,1849.7 964.6,1908.7 1041.5,1883.4 1068.7,1958.1 993.6,1988.1"/>
<polyline class="d" points="209,598.6 741,598.6"/>
<polyline class="d" points="273,678.8 721,678.8"/>
<polyline class="d" points="330,754.6 728,754.6"/>
<polyline class="d" points="330,937 466,937"/>
<polyline class="d" points="273,1008.3 454,1008.3"/>
<polyline class="d" points="209,1160.8 650,1160.8"/>
<polyline class="d" points="216.6,598.6 216.6,1160.8"/>
<polygon class="ah" points="216.6,598.6 219.8,613.6 213.4,613.6"/>
<polygon class="ah" points="216.6,1160.8 213.4,1145.8 219.8,1145.8"/>
<polyline class="d" points="281,598.6 281,678.8"/>
<polygon class="ah" points="281,598.6 284.2,613.6 277.8,613.6"/>
<polygon class="ah" points="281,678.8 277.8,663.8 284.2,663.8"/>
<polyline class="d" points="281,678.8 281,1008.3"/>
<polygon class="ah" points="281,678.8 284.2,693.8 277.8,693.8"/>
<polygon class="ah" points="281,1008.3 277.8,993.3 284.2,993.3"/>
<polyline class="d" points="339,754.6 339,937"/>
<polygon class="ah" points="339,754.6 342.2,769.6 335.8,769.6"/>
<polygon class="ah" points="339,937 335.8,922 342.2,922"/>
<polyline class="d" points="339,937 339,1008.3"/>
<polygon class="ah" points="339,937 342.2,952 335.8,952"/>
<polygon class="ah" points="339,1008.3 335.8,993.3 342.2,993.3"/>
<polyline class="d" points="339,1008.3 339,1160.8"/>
<polygon class="ah" points="339,1008.3 342.2,1023.3 335.8,1023.3"/>
<polygon class="ah" points="339,1160.8 335.8,1145.8 342.2,1145.8"/>
<polyline class="d" points="569.8,492 569.8,779"/>
<polyline class="d" points="1051.9,492 1051.9,780"/>
<polyline class="d" points="569.8,499 1051.9,499"/>
<polygon class="ah" points="569.8,499 584.8,495.8 584.8,502.2"/>
<polygon class="ah" points="1051.9,499 1036.9,502.2 1036.9,495.8"/>
<polyline class="d" points="740.6,540 740.6,602"/>
<polyline class="d" points="881,540 881,650"/>
<polyline class="d2" points="740.6,547.2 881,547.2"/>
<polygon class="ah" points="740.6,547.2 755.6,544 755.6,550.4"/>
<polygon class="ah" points="881,547.2 866,550.4 866,544"/>
<polyline class="d" points="453.2,1008 453.2,1257"/>
<polyline class="d" points="1170.4,1008 1170.4,1257"/>
<polyline class="d" points="453.2,1249.5 1170.4,1249.5"/>
<polygon class="ah" points="453.2,1249.5 468.2,1246.3 468.2,1252.7"/>
<polygon class="ah" points="1170.4,1249.5 1155.4,1252.7 1155.4,1246.3"/>
<polyline class="d" points="1171,1008.6 1277,1008.6"/>
<polyline class="d" points="1123,1150.4 1277,1150.4"/>
<polyline class="d" points="1270.5,1008.6 1270.5,1150.4"/>
<polygon class="ah" points="1270.5,1008.6 1273.7,1023.6 1267.3,1023.6"/>
<polygon class="ah" points="1270.5,1150.4 1267.3,1135.4 1273.7,1135.4"/>
<polyline class="d2" points="1093.5,1124 1093.5,1208"/>
<polyline class="d2" points="1133.9,1124 1133.9,1208"/>
<polyline class="d" points="1093.5,1201.8 1298.5,1201.8"/>
<polygon class="ah" points="1093.5,1201.8 1108.5,1198.6 1108.5,1205"/>
<polygon class="ah" points="1133.9,1201.8 1118.9,1205 1118.9,1198.6"/>
<text class="t" x="811.5" y="495" text-anchor="middle">96</text>
<text class="t" x="811.5" y="542.5" text-anchor="middle">27.8±0.3</text>
<text class="t" x="808" y="1246" text-anchor="middle">142.5±1</text>
<text class="t" x="1252" y="1199.5" text-anchor="middle">M8X1.25</text>
<text class="tr" x="0" y="0" text-anchor="middle" transform="translate(215 881) rotate(-90) scale(1 1.34)">119..5±1.5</text>
<text class="tr" x="0" y="0" text-anchor="middle" transform="translate(279.5 638) rotate(-90) scale(1 1.34)">17</text>
<text class="tr" x="0" y="0" text-anchor="middle" transform="translate(279.5 842) rotate(-90) scale(1 1.34)">70±1</text>
<text class="tr" x="0" y="0" text-anchor="middle" transform="translate(337.5 844) rotate(-90) scale(1 1.34)">39</text>
<text class="tr" x="0" y="0" text-anchor="middle" transform="translate(337.5 972.5) rotate(-90) scale(1 1.34)">15.5</text>
<text class="tr" x="0" y="0" text-anchor="middle" transform="translate(337.5 1085) rotate(-90) scale(1 1.34)">32.5±1</text>
<text class="tr" x="0" y="0" text-anchor="middle" transform="translate(1269 1079) rotate(-90) scale(1 1.34)">30±1</text>
<rect class="x" x="720" y="677.5" width="183" height="33.5" fill="url(#hL)" stroke="none"/>
<path class="x" d="M453.5,950 L550,950 L550,1008 L453.5,1008 Z" fill="url(#hL)" stroke="none"/>
<path class="x" d="M1038,948 L1170,948 L1170,1008.5 L1052,1008.5 Q1038,1006 1038,990 Z" fill="url(#hL)" stroke="none"/>
<path class="hl" d="M1038,948 L1038,990 Q1038,1006 1054,1008.5"/>
<polyline class="cl" points="811.5,566 811.5,1184"/>
<path class="o" d="M741.6,677.5 L741.6,607 Q741.6,599 749.7,599 L865,633.2 Q879,638 880.6,650 L880.6,677.5"/>
<polyline class="o2" points="743,612.2 880,658.1"/>
<polyline class="hd" points="749.7,632 874,672.4"/>
<polyline class="hd" points="752,621.5 790,633.5"/>
<polyline class="o2" points="832,640 852,646"/>
<polyline class="o2" points="790,628 806,633"/>
<polyline class="o2" points="796,622 792,636"/>
<polyline class="o2" points="846,637 842,651"/>
<rect class="o4" x="720" y="677.5" width="183" height="33.5"/>
<path class="o" d="M728.8,711 L728.8,762 Q728.8,774 719,774.5"/>
<path class="o" d="M893.4,711 L893.4,762 Q893.4,774 903,774.5"/>
<path class="o" d="M668,774.6 L955,774.6 L1013,795 Q1018.4,797 1018.4,803 L1018.4,832 Q1018.4,840.6 1010,840.6 L613,840.6"/>
<path class="o" d="M668,774.6 L610,795 Q604.6,797 604.6,803 L604.6,832 Q604.6,840.6 613,840.6"/>
<path class="o" d="M996,840.6 Q989,846 991,856 L1043,946.5"/>
<path class="o" d="M627,840.6 Q634,846 632,856 L580,946.5"/>
<path class="o4" d="M893.4,754.6 L1020,754.6 Q1052,756 1052,790 L1052,920 Q1052,935.6 1066,935.6"/>
<path class="o4" d="M729.6,754.6 L603,754.6 Q571,756 571,790 L571,920 Q571,935.6 557,935.6"/>
<path class="hd" d="M969,766 L1022,766 Q1039.5,767 1039.5,784 L1039.5,938 L1047,947"/>
<path class="hd" d="M654,766 L601,766 Q583.5,767 583.5,784 L583.5,938 L576,947"/>
<path class="hd" d="M897,758 L969,758 L969,766 Q969,772.5 962,772.5 L904,772.5"/>
<path class="hd" d="M726,758 L654,758 L654,766 Q654,772.5 661,772.5 L719,772.5"/>
<polyline class="o2" points="1000,756 1000,765"/>
<polyline class="o2" points="623,756 623,765"/>
<polyline class="o" points="1052.2,860.8 1073.8,920.6 1078,926"/>
<polyline class="o2" points="1056.2,873 1069.4,919"/>
<polyline class="o" points="570.8,860.8 549.2,920.6 545,926"/>
<polyline class="o2" points="566.8,873 553.6,919"/>
<rect x="486" y="937.5" width="47" height="56.5" fill="#d4d4d4"/>
<rect x="486" y="937.5" width="47" height="56.5" fill="url(#hK)"/>
<rect class="o" x="463.5" y="927" width="92" height="9.8"/>
<path class="o" d="M469.5,927 Q509.5,909 549.5,927"/>
<rect class="o4" x="486" y="937.5" width="47" height="56.5"/>
<polyline class="o" points="489.9,994 489.9,1001.4"/>
<polyline class="o" points="529.1,994 529.1,1001.4"/>
<path class="o" d="M488.5,1001.4 L488.5,1124.6 L530.5,1124.6 L530.5,1001.4 Z"/>
<polyline class="g2" points="494,1003 494,1123"/>
<polyline class="g2" points="525,1003 525,1123"/>
<path class="o" d="M493.5,1124.6 L493.5,1136 L503,1150.5 L516,1150.5 L525.5,1136 L525.5,1124.6"/>
<polyline class="o2" points="493.5,1136 525.5,1136"/>
<polyline class="cl2" points="509.5,905 509.5,1172"/>
<rect x="1089.5" y="937.5" width="47" height="56.5" fill="#d4d4d4"/>
<rect x="1089.5" y="937.5" width="47" height="56.5" fill="url(#hK)"/>
<rect class="o" x="1067" y="927" width="92" height="9.8"/>
<path class="o" d="M1073,927 Q1113,909 1153,927"/>
<rect class="o4" x="1089.5" y="937.5" width="47" height="56.5"/>
<polyline class="o" points="1093.4,994 1093.4,1001.4"/>
<polyline class="o" points="1132.6,994 1132.6,1001.4"/>
<path class="o" d="M1092,1001.4 L1092,1124.6 L1134,1124.6 L1134,1001.4 Z"/>
<polyline class="g2" points="1097.5,1003 1097.5,1123"/>
<polyline class="g2" points="1128.5,1003 1128.5,1123"/>
<path class="o" d="M1097,1124.6 L1097,1136 L1106.5,1150.5 L1119.5,1150.5 L1129,1136 L1129,1124.6"/>
<polyline class="o2" points="1097,1136 1129,1136"/>
<polyline class="cl2" points="1113,905 1113,1172"/>
<path class="o" d="M550,948 L460,948 Q453.5,948 453.5,955 L453.5,1008.3 L614.6,1008.3"/>
<polyline class="o" points="550,948 550,1008.3"/>
<path class="o" d="M463.5,937.3 L452,937.3 Q440,940 438,958 L436.3,972.5 L449.5,972.5 L449.5,956 Q450,949 458,948"/>
<path class="o" d="M1137,948 L1163,948 Q1169.8,948 1169.8,955 L1169.8,1008.5"/>
<path class="o" d="M1159.5,937 L1171,937 Q1183,940 1184.5,956 L1186,972.6 L1173.2,972.6 L1173.2,956"/>
<polyline class="o" points="1005,1008.6 1170,1008.6"/>
<polyline class="o" points="1137,948 1137,1008.6"/>
<polyline class="o" points="1089.5,948 1089.5,1008.6"/>
<polyline class="o4" points="550,948 1089.5,948"/>
<polyline class="o" points="558.3,948 558.3,962.1 634.3,962.1 634.3,948"/>
<polyline class="o" points="599.1,962.1 599.1,1008.3"/>
<polyline class="o" points="614.6,962.1 614.6,1008.3"/>
<polyline class="o" points="618.8,962.1 618.8,995.7 713,995.7 713,962.1"/>
<polyline class="o" points="693.3,948 693.3,995.7"/>
<polyline class="o" points="696.4,962.1 772,962.1 772,1074 776,1078 845.7,1078 849.7,1074 849.7,962.1 926.3,962.1 926.3,948"/>
<polyline class="o" points="913.9,962.1 913.9,1021.1 1005,1021.1 1005,1008.6"/>
<polyline class="o" points="942.9,948 942.9,1021.1"/>
<polyline class="o" points="948,1021.1 948,1067.7 980.1,1067.7 980.1,1021.1"/>
<polyline class="o" points="966.7,1021.1 966.7,1067.7"/>
<polyline class="o2" points="976,1021.1 976,1067.7"/>
<path class="o" d="M563.9,1008.3 L563.9,1094 Q563.9,1110 580,1110 L1042,1110 Q1057.8,1110 1057.8,1094 L1057.8,1008.6"/>
<path class="o" d="M635.3,1110 L635.3,1135 Q635.3,1162.6 664,1162.6 L960,1162.6 Q988.4,1162.6 988.4,1135 L988.4,1110"/>
<circle class="o" cx="811.5" cy="1043.8" r="28"/>
<circle class="o" cx="811.5" cy="1043.8" r="13"/>
<polyline class="o2" points="793.5,1043.8 829.5,1043.8"/>
<polyline class="d2" points="812,1350.7 1427,1350.7"/>
<polyline class="d2" points="812,1402.5 1375,1402.5"/>
<polyline class="d2" points="850,1474 1337.5,1474"/>
<polyline class="d2" points="902,1534.8 1300.5,1534.8"/>
<polyline class="d2" points="862,1596.2 1262.5,1596.2"/>
<polyline class="d2" points="862,1722.3 1262.5,1722.3"/>
<polyline class="d2" points="902,1782.5 1300.5,1782.5"/>
<polyline class="d2" points="850,1843.8 1337.5,1843.8"/>
<polyline class="d2" points="812,1915.2 1375,1915.2"/>
<polyline class="d2" points="812,1966.5 1427,1966.5"/>
<polyline class="d" points="1419.9,1350.7 1419.9,1966.5"/>
<polygon class="ah" points="1419.9,1350.7 1423.1,1365.7 1416.7,1365.7"/>
<polygon class="ah" points="1419.9,1966.5 1416.7,1951.5 1423.1,1951.5"/>
<polyline class="d" points="1367.4,1402.5 1367.4,1915.2"/>
<polygon class="ah" points="1367.4,1402.5 1370.6,1417.5 1364.2,1417.5"/>
<polygon class="ah" points="1367.4,1915.2 1364.2,1900.2 1370.6,1900.2"/>
<polyline class="d" points="1330.3,1474 1330.3,1843.8"/>
<polygon class="ah" points="1330.3,1474 1333.5,1489 1327.1,1489"/>
<polygon class="ah" points="1330.3,1843.8 1327.1,1828.8 1333.5,1828.8"/>
<polyline class="d" points="1293.3,1534.8 1293.3,1782.5"/>
<polygon class="ah" points="1293.3,1534.8 1296.5,1549.8 1290.1,1549.8"/>
<polygon class="ah" points="1293.3,1782.5 1290.1,1767.5 1296.5,1767.5"/>
<polyline class="d" points="1255,1596.2 1255,1722.3"/>
<polygon class="ah" points="1255,1596.2 1258.2,1611.2 1251.8,1611.2"/>
<polygon class="ah" points="1255,1722.3 1251.8,1707.3 1258.2,1707.3"/>
<text class="tr" x="0" y="0" text-anchor="middle" transform="translate(1418.4 1659.3) rotate(-90) scale(1 1.34)">131.5±1</text>
<text class="tr" x="0" y="0" text-anchor="middle" transform="translate(1365.9 1659.3) rotate(-90) scale(1 1.34)">109.5</text>
<text class="tr" x="0" y="0" text-anchor="middle" transform="translate(1328.8 1659.3) rotate(-90) scale(1 1.34)">79±1.5</text>
<text class="tr" x="0" y="0" text-anchor="middle" transform="translate(1291.8 1659.3) rotate(-90) scale(1 1.34)">53</text>
<text class="tr" x="0" y="0" text-anchor="middle" transform="translate(1253.5 1659.3) rotate(-90) scale(1 1.34)">26.8±0.3</text>
<polyline class="d2" points="436.3,1700 436.3,2201"/>
<polyline class="d2" points="1187.1,1700 1187.1,2201"/>
<polyline class="d2" points="508.9,1700 508.9,2165"/>
<polyline class="d2" points="1114.5,1700 1114.5,2165"/>
<polyline class="d2" points="569.6,1700 569.6,2134"/>
<polyline class="d2" points="1053.8,1700 1053.8,2134"/>
<polyline class="d2" points="635.2,1700 635.2,2103"/>
<polyline class="d2" points="988.2,1700 988.2,2103"/>
<polyline class="d2" points="723.2,1800 723.2,2077"/>
<polyline class="d2" points="900.2,1800 900.2,2077"/>
<polyline class="d2" points="740.3,1720 740.3,2035"/>
<polyline class="d2" points="883.1,1720 883.1,2035"/>
<polyline class="d2" points="740.3,2029.8 883.1,2029.8"/>
<polygon class="ah" points="740.3,2029.8 755.3,2026.6 755.3,2033"/>
<polygon class="ah" points="883.1,2029.8 868.1,2033 868.1,2026.6"/>
<polyline class="d" points="723.2,2071.7 900.2,2071.7"/>
<polygon class="ah" points="723.2,2071.7 738.2,2068.5 738.2,2074.9"/>
<polygon class="ah" points="900.2,2071.7 885.2,2074.9 885.2,2068.5"/>
<polyline class="d" points="635.2,2097.5 988.2,2097.5"/>
<polygon class="ah" points="635.2,2097.5 650.2,2094.3 650.2,2100.7"/>
<polygon class="ah" points="988.2,2097.5 973.2,2100.7 973.2,2094.3"/>
<polyline class="d" points="569.6,2127.6 1053.8,2127.6"/>
<polygon class="ah" points="569.6,2127.6 584.6,2124.4 584.6,2130.8"/>
<polygon class="ah" points="1053.8,2127.6 1038.8,2130.8 1038.8,2124.4"/>
<polyline class="d" points="508.9,2158.7 1114.5,2158.7"/>
<polygon class="ah" points="508.9,2158.7 523.9,2155.5 523.9,2161.9"/>
<polygon class="ah" points="1114.5,2158.7 1099.5,2161.9 1099.5,2155.5"/>
<polyline class="d" points="436.3,2194.4 1187.1,2194.4"/>
<polygon class="ah" points="436.3,2194.4 451.3,2191.2 451.3,2197.6"/>
<polygon class="ah" points="1187.1,2194.4 1172.1,2197.6 1172.1,2191.2"/>
<text class="t" x="811.7" y="2025" text-anchor="middle">27.8±0.3</text>
<text class="t" x="811.7" y="2067" text-anchor="middle">35</text>
<text class="t" x="811.7" y="2093.5" text-anchor="middle">70</text>
<text class="t" x="811.7" y="2125.2" text-anchor="middle">96</text>
<text class="t" x="811.7" y="2155.6" text-anchor="middle">120±0.5</text>
<text class="t" x="811.7" y="2190.7" text-anchor="middle">149±1</text>
<g class="tv">
<polyline class="o2" points="811.7,1279 811.7,1994" style="stroke:#555;stroke-width:2.6"/>
<polyline class="o2" points="404,1659.3 1217,1659.3" style="stroke:#333;stroke-width:2.6"/>
<path class="o" d="M610.5,1424.8 A309,309 0 0 1 1012.9,1424.8 L1166.4,1561 Q1187.1,1579 1187.1,1604 L1187.1,1714.6 Q1187.1,1739.6 1166.4,1757.6 L1012.9,1893.8 A309,309 0 0 1 610.5,1893.8 L457,1757.6 Q436.3,1739.6 436.3,1714.6 L436.3,1604 Q436.3,1579 457,1561 Z"/>
<path class="o" d="M571.4,1568.2 A257,257 0 0 1 1052,1568.2 L1052,1750.4 A257,257 0 0 1 571.4,1750.4 Z"/>
<polyline class="o2" points="567.5,1613 567.5,1705.6"/>
<polyline class="o2" points="1055.9,1613 1055.9,1705.6"/>
<circle class="o" cx="508.9" cy="1659.3" r="45"/>
<polyline class="hd" points="508.9,1604 508.9,1714.6"/>
<path class="o" d="M575,1559.3 L517,1559.3 A28.75,28.75 0 0 0 517,1616.8 L550,1616.8 Q562,1619 568,1629"/>
<path class="o" d="M573,1568.7 L556,1568.7 Q538,1586 556,1602.8 L571.4,1602.8"/>
<polyline class="o2" points="556,1602.8 568,1622"/>
<polyline class="o2" points="556,1568.7 577,1556"/>
<path class="o" d="M575,1759.3 L517,1759.3 A28.75,28.75 0 0 1 517,1701.8 L550,1701.8 Q562,1699.6 568,1689.6"/>
<path class="o" d="M573,1749.9 L556,1749.9 Q538,1732.6 556,1715.8 L571.4,1715.8"/>
<polyline class="o2" points="556,1715.8 568,1696.6"/>
<polyline class="o2" points="556,1749.9 577,1762.6"/>
<circle class="o" cx="1114.5" cy="1659.3" r="45"/>
<polyline class="hd" points="1114.5,1604 1114.5,1714.6"/>
<path class="o" d="M1048.4,1559.3 L1106.4,1559.3 A28.75,28.75 0 0 1 1106.4,1616.8 L1073.4,1616.8 Q1061.4,1619 1055.4,1629"/>
<path class="o" d="M1050.4,1568.7 L1067.4,1568.7 Q1085.4,1586 1067.4,1602.8 L1052,1602.8"/>
<polyline class="o2" points="1067.4,1602.8 1055.4,1622"/>
<polyline class="o2" points="1067.4,1568.7 1046.4,1556"/>
<path class="o" d="M1048.4,1759.3 L1106.4,1759.3 A28.75,28.75 0 0 0 1106.4,1701.8 L1073.4,1701.8 Q1061.4,1699.6 1055.4,1689.6"/>
<path class="o" d="M1050.4,1749.9 L1067.4,1749.9 Q1085.4,1732.6 1067.4,1715.8 L1052,1715.8"/>
<polyline class="o2" points="1067.4,1715.8 1055.4,1696.6"/>
<polyline class="o2" points="1067.4,1749.9 1046.4,1762.6"/>
<circle class="o2" cx="557.5" cy="1537.5" r="11.5"/>
<polyline class="o2" points="539.5,1537.5 575.5,1537.5"/>
<polyline class="o2" points="557.5,1519.5 557.5,1555.5"/>
<circle class="o2" cx="1065.9" cy="1781.1" r="11.5"/>
<polyline class="o2" points="1047.9,1781.1 1083.9,1781.1"/>
<polyline class="o2" points="1065.9,1763.1 1065.9,1799.1"/>
<path class="o" d="M635.2,1728.6 L635.2,1590 Q637,1537 715,1534.8 L908.4,1534.8 Q986.4,1537 988.2,1590 L988.2,1728.6 Q986.4,1781.6 908.4,1783.8 L715,1783.8 Q637,1781.6 635.2,1728.6 Z"/>
<polyline class="o" points="662.7,1453.3 695.1,1433.4 722.3,1477.7 689.9,1497.6 662.7,1453.3"/>
<polyline class="o" points="928.3,1433.4 960.7,1453.3 933.5,1497.6 901.1,1477.7 928.3,1433.4"/>
<polyline class="o" points="689.9,1821 722.3,1840.9 695.1,1885.2 662.7,1865.3 689.9,1821"/>
<polyline class="o" points="901.1,1840.9 933.5,1821 960.7,1865.3 928.3,1885.2 901.1,1840.9"/>
<rect x="723.2" y="1473.5" width="177" height="371.6" rx="38" ry="36" fill="#fff" stroke="none"/>
<polyline class="d2" points="740.3,1730 740.3,1860"/>
<polyline class="d2" points="883.1,1730 883.1,1860"/>
<rect class="o" x="723.2" y="1473.5" width="177" height="371.6" rx="38" ry="36"/>
<polyline class="o" points="724,1506.5 899.4,1506.5"/>
<polyline class="o" points="724,1546.9 899.4,1546.9"/>
<polyline class="o" points="724,1772 899.4,1772"/>
<polyline class="o" points="724,1812.4 899.4,1812.4"/>
<polyline class="o" points="720,1581 903.4,1581"/>
<polyline class="o" points="720,1737.9 903.4,1737.9"/>
<polyline class="o" points="720,1581 720,1737.9"/>
<polyline class="o" points="903.4,1581 903.4,1737.9"/>
<rect class="o" x="740.3" y="1595" width="142.8" height="128.5" rx="20" ry="20"/>
<circle class="o" cx="811.7" cy="1659.3" r="23.5"/>
<polyline class="o4" points="791.5,1403.5 791.5,1473.5"/>
<polyline class="o4" points="791.5,1845 791.5,1915"/>
<polyline class="o" points="830.3,1403.5 830.3,1473.5"/>
<polyline class="o" points="830.3,1845 830.3,1915"/>
<polyline class="o2" points="724,1659.3 899.4,1659.3" style="stroke:#333;stroke-width:2.6"/>
<polyline class="o2" points="811.7,1474 811.7,1845" style="stroke:#555;stroke-width:2.6"/>
<path class="g2" d="M667.2,1659.3 A144.5,144.5 0 0 0 709.5,1761.5"/>
<polyline class="g2" points="811.7,1659.3 703.7,1767.3"/>
<polyline class="g2" points="703.7,1767.3 715.7,1755.3"/>
<text class="t" x="691" y="1706" text-anchor="middle" transform="rotate(68 691 1706)">45°</text>
<polyline class="hd" points="778,1672 760,1690 772,1702"/>
<polyline class="hd" points="770,1700 790,1720"/>
<polyline class="o2" points="762,1692 772,1682"/>
</g>
<polyline class="d2" points="1817,411 1817,646"/>
<polyline class="d2" points="2214,411 2214,646"/>
<polyline class="d" points="1817,417.3 2214,417.3"/>
<polygon class="ah" points="1817,417.3 1832,414.1 1832,420.5"/>
<polygon class="ah" points="2214,417.3 2199,420.5 2199,414.1"/>
<polyline class="d2" points="1944.4,444 1944.4,678"/>
<polyline class="d2" points="2086.2,444 2086.2,606"/>
<polyline class="d2" points="1944.4,450.8 2086.2,450.8"/>
<polygon class="ah" points="1944.4,450.8 1959.4,447.6 1959.4,454"/>
<polygon class="ah" points="2086.2,450.8 2071.2,454 2071.2,447.6"/>
<text class="t" x="2015.3" y="413.5" text-anchor="middle">79±1.5</text>
<text class="t" x="2015.3" y="447.5" text-anchor="middle">26.8±0.3</text>
<polyline class="d" points="1647,679.7 1938,679.7"/>
<polyline class="d" points="1647,1161 1864,1161"/>
<polyline class="d" points="1654,679.7 1654,1161"/>
<polygon class="ah" points="1654,679.7 1657.2,694.7 1650.8,694.7"/>
<polygon class="ah" points="1654,1161 1650.8,1146 1657.2,1146"/>
<text class="tr" x="0" y="0" text-anchor="middle" transform="translate(1652.5 920) rotate(-90) scale(1 1.34)">102.5±1.5</text>
<polyline class="d2" points="1839.5,1108 1839.5,1224"/>
<polyline class="d2" points="2191.3,1108 2191.3,1224"/>
<polyline class="d" points="1839.5,1217.9 2191.3,1217.9"/>
<polygon class="ah" points="1839.5,1217.9 1854.5,1214.7 1854.5,1221.1"/>
<polygon class="ah" points="2191.3,1217.9 2176.3,1221.1 2176.3,1214.7"/>
<polyline class="d2" points="1768.6,968 1768.6,1271"/>
<polyline class="d2" points="2262.2,1100 2262.2,1271"/>
<polyline class="d" points="1768.6,1264.5 2262.2,1264.5"/>
<polygon class="ah" points="1768.6,1264.5 1783.6,1261.3 1783.6,1267.7"/>
<polygon class="ah" points="2262.2,1264.5 2247.2,1267.7 2247.2,1261.3"/>
<text class="t" x="2015.3" y="1214.5" text-anchor="middle">ø70</text>
<text class="t" x="2015.3" y="1260.4" text-anchor="middle">ø98±1</text>
<path d="M2086.7,678.4 L2140.3,655.7 L2201.3,638.8 L2207.1,639.9 Q2212.8,641 2213.6,646.8 L2214.1,650.9 Q2214.8,656 2211.1,659.5 L2207.3,663 L2165.3,683 L2119.7,694.6 L2109.5,697.3 Q2099.3,700 2099.3,710.6 L2099.3,760 Q2099.3,774 2113.3,774 L2176.7,774 L2222.8,789.5 Q2227.3,791 2231,794 L2231,794 Q2234.7,797 2234.7,801.8 L2234.7,833 Q2234.7,841 2226.7,841 L2206.3,841 Q2199.3,841 2197.9,847.9 L2196.3,856 L2237.4,938.1 Q2239.3,942 2242.8,944.6 L2246.3,947.2 L2199.3,993.7 L2195.8,1003 L2195.8,1021 L2187.8,1015 L2183.7,1004.6 Q2181.8,1000 2178,996.8 L2105.1,935.9 Q2102.8,934 2099.8,934.1 L2089.3,934.6 L2085.3,940.6 L2015.3,940.6 L1945.3,940.6 L1941.3,934.6 L1930.8,934.1 Q1927.8,934 1925.5,935.9 L1852.6,996.8 Q1848.8,1000 1846.9,1004.6 L1842.8,1015 L1834.8,1021 L1834.8,1003 L1831.3,993.7 L1784.3,947.2 L1787.8,944.6 Q1791.3,942 1793.2,938.1 L1834.3,856 L1832.7,847.9 Q1831.3,841 1824.3,841 L1803.9,841 Q1795.9,841 1795.9,833 L1795.9,801.8 Q1795.9,797 1799.6,794 L1799.6,794 Q1803.3,791 1807.8,789.5 L1853.9,774 L1917.3,774 Q1931.3,774 1931.3,760 L1931.3,710.6 Q1931.3,700 1921.1,697.3 L1910.9,694.6 L1865.3,683 L1823.3,663 L1819.5,659.5 Q1815.8,656 1816.5,650.9 L1817,646.8 Q1817.8,641 1823.5,639.9 L1829.3,638.8 L1890.3,655.7 L1943.9,678.4 Z" fill="url(#hX)" stroke="none"/>
<rect class="x" x="1943.9" y="678.4" width="142.8" height="29.6" fill="#fff" stroke="none"/>
<path d="M2088.3,708 L2088.3,760.2 Q2088.3,776 2099.8,786.8 L2111.3,797.6 L2212.1,797.6 Q2216.3,797.6 2219.6,800.3 L2222.8,803 L2222.8,828 Q2222.8,831 2219.8,831 L2188.8,831 L2107.6,896.2 Q2095.8,905.7 2081.6,911 L2067.3,916.2 L2015.3,916.2 L1963.3,916.2 L1949,911 Q1934.8,905.7 1923,896.2 L1841.8,831 L1810.8,831 Q1807.8,831 1807.8,828 L1807.8,803 L1811,800.3 Q1814.3,797.6 1818.5,797.6 L1919.3,797.6 L1930.8,786.8 Q1942.3,776 1942.3,760.2 L1942.3,708 Z" fill="#fff" stroke="none"/>
<path d="M2088.3,708 L2088.3,760.2 Q2088.3,776 2099.8,786.8 L2111.3,797.6 L2212.1,797.6 Q2216.3,797.6 2219.6,800.3 L2222.8,803 L2222.8,828 Q2222.8,831 2219.8,831 L2188.8,831 L2107.6,896.2 Q2095.8,905.7 2081.6,911 L2067.3,916.2 L2015.3,916.2 L1963.3,916.2 L1949,911 Q1934.8,905.7 1923,896.2 L1841.8,831 L1810.8,831 Q1807.8,831 1807.8,828 L1807.8,803 L1811,800.3 Q1814.3,797.6 1818.5,797.6 L1919.3,797.6 L1930.8,786.8 Q1942.3,776 1942.3,760.2 L1942.3,708 Z" fill="url(#hB)" stroke="none"/>
<path d="M2015.3,940.6 L2085.3,940.6 L2089.3,934.6 L2102.8,934 L2181.8,1000 L2187.8,1015 L2193.3,1024 L2015.3,1024 L1837.3,1024 L1842.8,1015 L1848.8,1000 L1927.8,934 L1941.3,934.6 L1945.3,940.6 Z" fill="#fff" stroke="none"/>
<path d="M2015.3,940.6 L2085.3,940.6 L2089.3,934.6 L2102.8,934 L2181.8,1000 L2187.8,1015 L2193.3,1024 L2015.3,1024 L1837.3,1024 L1842.8,1015 L1848.8,1000 L1927.8,934 L1941.3,934.6 L1945.3,940.6 Z" fill="url(#hF)" stroke="none"/>
<path d="M2262.3,963.5 L2273.3,963 L2277.3,955 L2272.3,947.5 L2246.3,947.2 L2199.3,993.7 L2195.8,1003 L2195.8,1024 L2240.3,1024 L2240.3,1087.5 L2251.3,1087.5 L2251.3,1102 L2262.3,1094 Z" fill="url(#hL)" stroke="none"/>
<path d="M1768.3,963.5 L1757.3,963 L1753.3,955 L1758.3,947.5 L1784.3,947.2 L1831.3,993.7 L1834.8,1003 L1834.8,1024 L1790.3,1024 L1790.3,1087.5 L1779.3,1087.5 L1779.3,1102 L1768.3,1094 Z" fill="url(#hL)" stroke="none"/>
<rect class="x" x="1865.3" y="1049" width="300" height="19.5" fill="url(#hL)" stroke="none"/>
<rect class="x" x="1865.3" y="1069" width="300" height="18" fill="url(#hF)" stroke="none"/>
<polyline class="cl" points="2015.3,567 2015.3,1183" style="stroke:#5a5a5a;stroke-width:3.4;stroke-dasharray:150 7 10 7"/>
<path class="o" d="M2086.7,678.4 L2140.3,655.7 L2201.3,638.8 L2207.1,639.9 Q2212.8,641 2213.6,646.8 L2214.1,650.9 Q2214.8,656 2211.1,659.5 L2207.3,663 L2165.3,683 L2119.7,694.6 L2109.5,697.3 Q2099.3,700 2099.3,710.6 L2099.3,760 Q2099.3,774 2113.3,774 L2176.7,774 L2222.8,789.5 Q2227.3,791 2231,794 L2231,794 Q2234.7,797 2234.7,801.8 L2234.7,833 Q2234.7,841 2226.7,841 L2206.3,841 Q2199.3,841 2197.9,847.9 L2196.3,856 L2237.4,938.1 Q2239.3,942 2242.8,944.6 L2246.3,947.2"/>
<path class="o" d="M1943.9,678.4 L1890.3,655.7 L1829.3,638.8 L1823.5,639.9 Q1817.8,641 1817,646.8 L1816.5,650.9 Q1815.8,656 1819.5,659.5 L1823.3,663 L1865.3,683 L1910.9,694.6 L1921.1,697.3 Q1931.3,700 1931.3,710.6 L1931.3,760 Q1931.3,774 1917.3,774 L1853.9,774 L1807.8,789.5 Q1803.3,791 1799.6,794 L1799.6,794 Q1795.9,797 1795.9,801.8 L1795.9,833 Q1795.9,841 1803.9,841 L1824.3,841 Q1831.3,841 1832.7,847.9 L1834.3,856 L1793.2,938.1 Q1791.3,942 1787.8,944.6 L1784.3,947.2"/>
<path class="o" d="M2246.3,947.2 L2199.3,993.7 L2196.9,1000.2 Q2195.8,1003 2195.8,1006 L2195.8,1022"/>
<path class="o" d="M1784.3,947.2 L1831.3,993.7 L1833.7,1000.2 Q1834.8,1003 1834.8,1006 L1834.8,1022"/>
<path class="o" d="M2193.3,1024 L2189.9,1018.4 Q2187.8,1015 2186.3,1011.3 L2183.3,1003.7 Q2181.8,1000 2178.7,997.4 L2105.1,935.9 Q2102.8,934 2099.8,934.1 L2091.3,934.5 Q2089.3,934.6 2088.2,936.3 L2085.3,940.6"/>
<path class="o" d="M1837.3,1024 L1840.7,1018.4 Q1842.8,1015 1844.3,1011.3 L1847.3,1003.7 Q1848.8,1000 1851.9,997.4 L1925.5,935.9 Q1927.8,934 1930.8,934.1 L1939.3,934.5 Q1941.3,934.6 1942.4,936.3 L1945.3,940.6"/>
<polyline class="o" points="1945.3,940.6 2085.3,940.6"/>
<path class="o" d="M2088.3,679 L2088.3,760.2 Q2088.3,776 2099.8,786.8 L2111.3,797.6 L2212.1,797.6 Q2216.3,797.6 2219.6,800.3 L2222.8,803 L2222.8,828 Q2222.8,831 2219.8,831 L2188.8,831 L2107.6,896.2 Q2095.8,905.7 2081.6,911 L2067.3,916.2 L2015.3,916.2"/>
<path class="o" d="M1942.3,679 L1942.3,760.2 Q1942.3,776 1930.8,786.8 L1919.3,797.6 L1818.5,797.6 Q1814.3,797.6 1811,800.3 L1807.8,803 L1807.8,828 Q1807.8,831 1810.8,831 L1841.8,831 L1923,896.2 Q1934.8,905.7 1949,911 L1963.3,916.2 L2015.3,916.2"/>
<polyline class="hd" points="1943.9,708 2099.3,708" style="stroke:#8a8a8a"/>
<polyline class="hd" points="1931.3,708 1943.9,708" style="stroke:#8a8a8a"/>
<path class="hl" d="M1944.3,701 Q1995.3,686 2025.3,700 T2086.3,698"/>
<polyline class="o4" points="1943.9,678.6 2086.7,678.6"/>
<polyline class="o" points="1994.8,916.2 1994.8,940.6"/>
<polyline class="o" points="2035.8,916.2 2035.8,940.6"/>
<polyline class="hd" points="2001.3,925 2029.3,925"/>
<path class="o" d="M1944.4,678.4 L1944.4,652 Q1945,638.5 1957,634 L2070,599.8 Q2084,596 2086.2,607 L2086.2,678.4"/>
<polyline class="o2" points="1945.5,657.5 2085,613.5"/>
<polyline class="hd" points="1950.5,672 2075,631.6"/>
<polyline class="hd" points="2040,632 2082,618.5"/>
<polyline class="o2" points="1990,646 2008,640.5"/>
<polyline class="o2" points="2032,630.5 2046,626"/>
<polyline class="o2" points="1996,636 2000,650"/>
<polyline class="o2" points="2036,624 2040,637"/>
<path class="o" d="M1930.3,753.4 L1779.3,753.4 L1759.3,754.7 Q1739.3,756 1739.3,776 L1739.3,923.9 Q1739.3,930 1734.3,933.5 L1729.3,937 L1704.2,937 Q1697.3,937 1690.5,938.5 L1683.8,940 L1683.8,971.5 L1768.3,971.5"/>
<path class="o" d="M2100.3,753.4 L2251.3,753.4 L2271.3,754.7 Q2291.3,756 2291.3,776 L2291.3,923.9 Q2291.3,930 2296.3,933.5 L2301.3,937 L2326.4,937 Q2333.3,937 2340.1,938.5 L2346.8,940 L2346.8,971.5 L2298.8,971.5"/>
<path class="o" d="M2193.3,759.5 L2251.3,759.5"/>
<path class="o" d="M1837.3,759.5 L1779.3,759.5"/>
<path class="o" d="M2105.3,766 L2185.3,766 L2193.3,771.5 L2255.8,771.5 Q2263.3,771.5 2270.6,773.2 L2277.8,775 L2277.8,923 Q2277.8,932 2282.6,939.6 L2287.3,947.2 L2327.2,947.2 Q2329.3,947.2 2330.8,948.6 L2332.3,950 L2332.3,971.5"/>
<path class="o" d="M1925.3,766 L1845.3,766 L1837.3,771.5 L1774.8,771.5 Q1767.3,771.5 1760,773.2 L1752.8,775 L1752.8,923 Q1752.8,932 1748,939.6 L1743.3,947.2 L1703.4,947.2 Q1701.3,947.2 1699.8,948.6 L1698.3,950 L1698.3,971.5"/>
<path class="o2" d="M2148.8,753.4 L2148.8,766"/>
<path class="o2" d="M1881.8,753.4 L1881.8,766"/>
<path class="o2" d="M2185.3,759.5 L2193.3,759.5"/>
<path class="o2" d="M1845.3,759.5 L1837.3,759.5"/>
<path class="o" d="M2246.3,947.2 L2268.2,947.2 Q2273.3,947.2 2275.8,951.6 L2278.3,956"/>
<path class="o" d="M1784.3,947.2 L1762.4,947.2 Q1757.3,947.2 1754.8,951.6 L1752.3,956"/>
<path class="o" d="M1784.3,947.2 L1761.6,947.4 Q1757.3,947.4 1755.3,951.2 L1755.3,951.2 Q1753.3,955 1755.2,958.9 L1757.3,963.3 L1768.3,963.3 L1768.3,1084.2 Q1768.3,1092 1773.8,1097.5 L1779.3,1103"/>
<path class="o" d="M2246.3,947.2 L2264.8,947.3 Q2271.3,947.4 2275.1,952.7 L2278.8,958"/>
<path class="o" d="M2262.3,1080 L2262.3,1086 Q2262.3,1092 2258.1,1096.2 L2251.3,1103"/>
<polyline class="o4" points="1790.3,1024.3 2240.3,1024.3"/>
<path class="o" d="M2240.3,1024.3 L2240.3,1087"/>
<path class="o" d="M1790.3,1024.3 L1790.3,1087"/>
<path class="o4" d="M2223.8,1024.3 L2223.8,1087"/>
<path class="o4" d="M1806.8,1024.3 L1806.8,1087"/>
<path class="o2" d="M2220.3,1030 L2220.3,1087"/>
<path class="o2" d="M1810.3,1030 L1810.3,1087"/>
<rect class="x" x="1825.3" y="1033" width="34" height="40.4" fill="url(#hF)" stroke="none"/>
<path class="o" d="M2171.3,1033 L2205.3,1033 L2205.3,1073.4 L2171.3,1073.4 L2171.3,1033"/>
<path class="o" d="M1859.3,1033 L1825.3,1033 L1825.3,1073.4 L1859.3,1073.4 L1859.3,1033"/>
<path class="o2" d="M2158.3,1024.3 L2158.3,1030 L2138.3,1030 L2138.3,1024.3"/>
<path class="o2" d="M1872.3,1024.3 L1872.3,1030 L1892.3,1030 L1892.3,1024.3"/>
<path class="o4" d="M2042.8,1031.2 L2156.9,1031.2 L2156.9,1048.8 L2042.8,1048.8 L2042.8,1031.2"/>
<path class="o4" d="M1987.8,1031.2 L1873.7,1031.2 L1873.7,1048.8 L1987.8,1048.8 L1987.8,1031.2"/>
<path class="o2" d="M2049.3,1036 L2150.3,1036"/>
<path class="o2" d="M1981.3,1036 L1880.3,1036"/>
<path class="o2" d="M2049.3,1044.5 L2150.3,1044.5"/>
<path class="o2" d="M1981.3,1044.5 L1880.3,1044.5"/>
<polyline class="o2" points="2002.3,1024.3 2002.3,1030 2028.3,1030 2028.3,1024.3"/>
<polyline class="o2" points="1987.8,1040 2042.8,1040"/>
<path class="o" d="M2015.3,1068.5 L2157.3,1068.5 L2157.3,1087"/>
<path class="o" d="M2015.3,1068.5 L1873.3,1068.5 L1873.3,1087"/>
<rect x="1780.3" y="1087.5" width="57" height="9" fill="#222"/>
<path d="M1783.3,1092 H1834.3" stroke="#fff" stroke-width="2" stroke-dasharray="3 4" fill="none"/>
<rect class="o" x="1786.3" y="1098.5" width="53" height="9.5"/>
<rect x="2193.3" y="1087.5" width="57" height="9" fill="#222"/>
<path d="M2196.3,1092 H2247.3" stroke="#fff" stroke-width="2" stroke-dasharray="3 4" fill="none"/>
<rect class="o" x="2191.3" y="1098.5" width="53" height="9.5"/>
<polyline class="o" points="1837.3,1087.2 2193.3,1087.2"/>
<path class="o" d="M1843.3,1090 C1855.3,1092 1855.3,1118 1873.3,1116 S1895.3,1094 1915.3,1094 C1975.3,1106 2055.3,1106 2115.3,1094 C2135.3,1094 2140.3,1118 2157.3,1116 S2175.3,1092 2187.3,1090"/>
<path class="o2" d="M1849.3,1090 C1861.3,1092 1861.3,1110 1873.3,1109 S1891.3,1094 1911.3,1094 C1975.3,1100 2055.3,1100 2119.3,1094 C2139.3,1094 2145.3,1110 2157.3,1109 S2169.3,1092 2181.3,1090"/>
<path class="o" d="M2191.8,1098 L2191.8,1135.5 Q2191.8,1161.5 2165.8,1161.5 L2015.3,1161.5"/>
<path class="o" d="M1838.8,1098 L1838.8,1135.5 Q1838.8,1161.5 1864.8,1161.5 L2015.3,1161.5"/>
<path class="o" d="M2182.8,1100 L2182.8,1134 Q2182.8,1154 2162.8,1154 L2015.3,1154"/>
<path class="o" d="M1847.8,1100 L1847.8,1134 Q1847.8,1154 1867.8,1154 L2015.3,1154"/>
<polyline class="o" points="1857.3,1119 2173.3,1119"/>
<polyline class="o" points="2298,946.6 2298,1021.9 2275.5,1021.9"/>
<rect class="o" x="2274.7" y="1021.9" width="12.4" height="46.6"/>
<polyline class="o" points="2273.1,962 2273.1,1081 2262.3,1081"/>
<rect class="o2" x="2240" y="1033" width="30.5" height="22"/>
<polyline class="o2" points="2232,1044 2282,1044"/>
<polyline class="hd" points="2262.3,962 2262.3,1100"/>
<path d="M1284.8,592.8 L1298.4,592.8 L1300.7,584.8 L1455,514.5 Q1470,508 1473.8,522 L1473.8,592.8 L1488.6,592.8 L1488.6,756.8 L1444.2,756.8 C1415,752 1400,735 1385.6,731.7 C1365,726 1350,722 1339.4,722.6 C1320,724 1300,742 1284.8,749.9 Z" fill="url(#hA)" stroke="none"/>
<path d="M1366.7,551.8 L1427.1,670.2 L1465.8,655.4 L1407.7,535.9 Z" fill="#fff" stroke="none"/>
<polyline class="cl2" points="1385.6,371 1385.6,830" style="stroke:#6a6a6a;stroke-width:3;stroke-dasharray:44 8 8 8"/>
<polyline class="cl2" points="1311,391.2 1539,849" style="stroke:#3a3a3a;stroke-width:2.8;stroke-dasharray:52 9 10 9"/>
<polyline class="d2" points="1324.6,474.4 1366.7,551.8"/>
<polyline class="d2" points="1366.7,447 1407.7,535.9"/>
<polyline class="d" points="1318.9,471 1367.9,451.6"/>
<polygon class="ah" points="1324.6,468.8 1334.7,461.6 1336.9,467.2"/>
<polygon class="ah" points="1366.7,452.1 1356.6,459.3 1354.4,453.7"/>
<polyline class="d2" points="1318.9,471 1226,508"/>
<polyline class="d" points="1311,391.2 1385.6,379.5"/>
<polygon class="ah" points="1385.6,379.5 1374.2,384.3 1373.3,378.4"/>
<polygon class="ah" points="1311,391.2 1322.4,386.4 1323.3,392.3"/>
<polyline class="d2" points="1217.6,617.5 1300.7,584.8"/>
<polyline class="d" points="1222.1,616.7 1279.1,747.7"/>
<polygon class="ah" points="1222.1,616.7 1229.6,626.5 1224.1,628.9"/>
<polygon class="ah" points="1279.1,747.7 1271.6,737.9 1277.1,735.5"/>
<polyline class="d2" points="1273,750 1285,750"/>
<polyline class="d2" points="1459,510.3 1528.4,510.3"/>
<polyline class="d2" points="1488.6,592.8 1528.4,592.8"/>
<polyline class="d" points="1525,510.3 1525,592.8"/>
<polygon class="ah" points="1525,510.3 1528.2,525.3 1521.8,525.3"/>
<polygon class="ah" points="1525,592.8 1521.8,577.8 1528.2,577.8"/>
<text class="tr" x="0" y="0" text-anchor="middle" transform="translate(1523.5 551) rotate(-90) scale(1 1.34)">17</text>
<text class="t" x="1345" y="374" text-anchor="middle" transform="rotate(-10 1345 374)">25°</text>
<text class="t" x="1264" y="491.5" text-anchor="middle" transform="rotate(-21.5 1264 491.5)">M10x1.5</text>
<text class="t" x="1256" y="672" text-anchor="middle" transform="rotate(66.5 1256 672)">27±3</text>
<path class="o" d="M1284.8,592.8 L1298.4,592.8 L1300.7,584.8 L1455,514.5 Q1470,508 1473.8,522 L1473.8,592.8 L1488.6,592.8 L1488.6,756.8 L1444.2,756.8 C1415,752 1400,735 1385.6,731.7 C1365,726 1350,722 1339.4,722.6 C1320,724 1300,742 1284.8,749.9 Z"/>
<polyline class="o" points="1366.7,551.8 1427.1,670.2 1465.8,655.4 1407.7,535.9"/>
<polyline class="g2" points="1374,549 1433.5,667.7"/>
<polyline class="g2" points="1400.5,538.7 1459,658"/>
<polyline class="o2" points="1427.1,670.2 1432,675 1452,674 1465.8,655.4"/>
<path class="x" d="M2000,0 L2500,0 L2500,137 L2135,137 A135,137 0 0 1 2000,0 Z" fill="url(#gt)" stroke="none"/>
<text x="0" y="0" transform="translate(2109 87) scale(1.35 1)" style="font-family:'Liberation Sans',sans-serif;font-weight:bold;font-style:italic;font-size:72px;fill:#fff;stroke:#fff;stroke-width:3.2;stroke-linejoin:round">SKV.PL</text>
<polygon points="61.9,2134.4 -338.1,2534.4 -38.9,2833.6 361.1,2433.6" fill="url(#gb)"/>
<circle class="x" cx="211.5" cy="2284" r="211.5" fill="url(#gb)" stroke="none"/>
<circle class="x" cx="217.5" cy="2278" r="184" fill="#fff" stroke="none"/>
<circle class="x" cx="217.5" cy="2278" r="176" fill="#58595b" stroke="none"/>
<circle class="x" cx="217.5" cy="2278" r="122" fill="#fff" stroke="none"/>
<circle class="x" cx="217.5" cy="2278" r="111.5" fill="none" stroke="#e8262b" stroke-width="4.6"/>
<path d="M258.8,2302.7 L297.3,2329.7 L284.2,2343.6 L271.7,2334.2 L260.9,2342.8 L267.4,2357 L249.4,2365.7 L242.3,2351.7 L228.8,2354.8 L228.4,2370.5 L208.6,2370.5 L208.2,2354.8 L194.7,2351.7 L187.6,2365.7 L169.6,2357 L176.1,2342.8 L165.3,2334.2 L152.8,2343.6 L140.4,2328.1 L152.4,2318 L146.4,2305.6 L131.1,2308.7 L126.6,2289.3 L141.8,2285.4 L141.8,2271.6 L126.6,2267.7 L131.1,2248.3 L146.4,2251.4 L152.4,2239 L140.4,2228.9 L152.8,2213.4 L165.3,2222.8 L176.1,2214.2 L169.6,2200 L187.6,2191.3 L194.7,2205.3 L199.4,2201.8 L204.8,2200.7 L210.2,2199.9 L215.7,2199.5 L220,2197.5 L220,2202.5 L205,2202.5 L205,2210 L220,2210 L220,2215 L205,2215 L205,2223.5 L220,2223.5 L220,2229 Q206.5,2232.5 196.5,2238.5 L307.5,2238.5 L298,2284 L172,2284 A47,47 0 0 0 258.8,2302.7 Z" fill="#58595b"/>
<text x="0" y="0" transform="translate(238.5 2275.5) scale(0.86 1)" text-anchor="middle" style="font-family:'Liberation Sans',sans-serif;font-weight:bold;font-size:33px;fill:#fff">SKV</text>
<path id="arcT" d="M87.8,2296.2 A131,131 0 1 1 347.2,2296.2" fill="none"/>
<text style="font-family:'Liberation Sans',sans-serif;font-size:21.6px;fill:#fff;stroke:#fff;stroke-width:0.5" textLength="396" lengthAdjust="spacing"><textPath href="#arcT" startOffset="27">AFTERMARKET PRICE - OE QUALITY</textPath></text>
<path id="arcB" d="M92.8,2379 A160.5,160.5 0 0 0 342.2,2379" fill="none"/>
<text style="font-family:'Liberation Sans',sans-serif;font-weight:bold;font-size:36px;fill:#fff" textLength="278" lengthAdjust="spacing"><textPath href="#arcB" startOffset="3">AUTO PARTS</textPath></text>
<circle class="x" cx="81.5" cy="2314.5" r="12.5" fill="none" stroke="#fff" stroke-width="3"/>
<text x="81.5" y="2333" text-anchor="middle" style="font-family:'Liberation Sans',sans-serif;font-weight:bold;font-size:35px;fill:#fff">*</text>
<circle class="x" cx="353.5" cy="2314.5" r="12.5" fill="none" stroke="#fff" stroke-width="3"/>
<text x="353.5" y="2333" text-anchor="middle" style="font-family:'Liberation Sans',sans-serif;font-weight:bold;font-size:35px;fill:#fff">*</text>
<rect class="x" x="1742.5" y="2224" width="722.5" height="240" fill="#fff" stroke="none"/>
<rect class="tb" x="1742.5" y="2224" width="722.5" height="240"/>
<polyline class="tb" points="2034.2,2224 2034.2,2464"/>
<polyline class="tb" points="2344.3,2224 2344.3,2464"/>
<polyline class="tb" points="2246.6,2344 2246.6,2464"/>
<polyline class="tb" points="2034.2,2344 2465,2344"/>
<text class="tl" x="1751.5" y="2244.7" text-anchor="start">Importer</text>
<text class="tl" x="2043.5" y="2244.7" text-anchor="start">Product name</text>
<text class="tl" x="2353" y="2244.7" text-anchor="start">Symbol</text>
<text class="tl" x="2045" y="2364.8" text-anchor="start">OE Number</text>
<text class="tl" x="2257" y="2364.8" text-anchor="start">Diagram No</text>
<text class="tl" x="2353" y="2364.8" text-anchor="start">Date</text>
<text class="tv" x="2043.5" y="2295.2" text-anchor="start">ENGINE MOUNT</text>
<text class="tv" x="2353" y="2295.2" text-anchor="start">75SKV125</text>
<text class="tv" x="2045" y="2415.3" text-anchor="start">22116754613</text>
<text class="tv" x="2257" y="2415.3" text-anchor="start">001</text>
<text class="tv" x="2353" y="2415.3" text-anchor="start">03/2025</text>
<text class="ta" x="1884.5" y="2398.8" text-anchor="middle" style="font-weight:bold;font-size:14.1px">ESEN Wojciech Michorzewski S.K.A.</text>
<text class="ta" x="1884.5" y="2419.5" text-anchor="middle">Papiezka 69, 87-800 Wloclawek, Poland</text>
<text class="ta" x="1884.5" y="2440.2" text-anchor="middle">info@skv.pl, www.skv.pl</text>
<circle class="x" cx="1878.5" cy="2310.6" r="63.6" fill="#3a3a3c" stroke="none"/>
<circle class="x" cx="1878.5" cy="2310.6" r="59.5" fill="none" stroke="#fff" stroke-width="1"/>
<circle class="x" cx="1878.5" cy="2310.6" r="44.5" fill="#fff" stroke="none"/>
<circle class="x" cx="1878.5" cy="2310.6" r="40.5" fill="none" stroke="#e8262b" stroke-width="2"/>
<path d="M1893.5,2319.5 L1907.4,2329.3 L1902.6,2334.3 L1898.1,2330.9 L1894.2,2334 L1896.6,2339.2 L1890.1,2342.3 L1887.5,2337.3 L1882.6,2338.4 L1882.5,2344 L1875.3,2344 L1875.2,2338.4 L1870.3,2337.3 L1867.7,2342.3 L1861.2,2339.2 L1863.6,2334 L1859.7,2330.9 L1855.2,2334.3 L1850.7,2328.7 L1855,2325.1 L1852.8,2320.6 L1847.3,2321.7 L1845.7,2314.7 L1851.2,2313.3 L1851.2,2308.3 L1845.7,2306.9 L1847.3,2299.9 L1852.8,2301 L1855,2296.5 L1850.7,2292.9 L1855.2,2287.3 L1859.7,2290.7 L1863.6,2287.6 L1861.2,2282.4 L1867.7,2279.3 L1870.3,2284.3 L1872,2283.1 L1873.9,2282.7 L1875.9,2282.4 L1877.9,2282.3 L1879.4,2281.5 L1879.4,2283.3 L1874,2283.3 L1874,2286 L1879.4,2286 L1879.4,2287.9 L1874,2287.9 L1874,2290.9 L1879.4,2290.9 L1879.4,2292.9 Q1874.6,2294.2 1871,2296.3 L1911.1,2296.3 L1907.6,2312.8 L1862.1,2312.8 A17,17 0 0 0 1893.5,2319.5 Z" fill="#3a3a3c"/>
<text x="0" y="0" transform="translate(1886.1 2309.7) scale(0.86 1)" text-anchor="middle" style="font-family:'Liberation Sans',sans-serif;font-weight:bold;font-size:12px;fill:#fff">SKV</text>
<path id="arcT2" d="M1831.7,2317.2 A47.3,47.3 0 1 1 1925.3,2317.2" fill="none"/>
<text style="font-family:'Liberation Sans',sans-serif;font-weight:bold;font-size:7.6px;fill:#fff" textLength="143" lengthAdjust="spacing"><textPath href="#arcT2" startOffset="9.8">AFTERMARKET PRICE - OE QUALITY</textPath></text>
<path id="arcB2" d="M1833.3,2347.2 A58.2,58.2 0 0 0 1923.7,2347.2" fill="none"/>
<text style="font-family:'Liberation Sans',sans-serif;font-weight:bold;font-size:13px;fill:#fff" textLength="100" lengthAdjust="spacing"><textPath href="#arcB2" startOffset="1.5">AUTO PARTS</textPath></text>
<circle class="x" cx="1829.2" cy="2323.8" r="4.3" fill="none" stroke="#fff" stroke-width="1.2"/>
<text x="1829.2" y="2329.4" text-anchor="middle" style="font-family:'Liberation Sans',sans-serif;font-weight:bold;font-size:10.5px;fill:#fff">*</text>
<circle class="x" cx="1927.8" cy="2323.8" r="4.3" fill="none" stroke="#fff" stroke-width="1.2"/>
<text x="1927.8" y="2329.4" text-anchor="middle" style="font-family:'Liberation Sans',sans-serif;font-weight:bold;font-size:10.5px;fill:#fff">*</text>
</svg>
</body></html>
